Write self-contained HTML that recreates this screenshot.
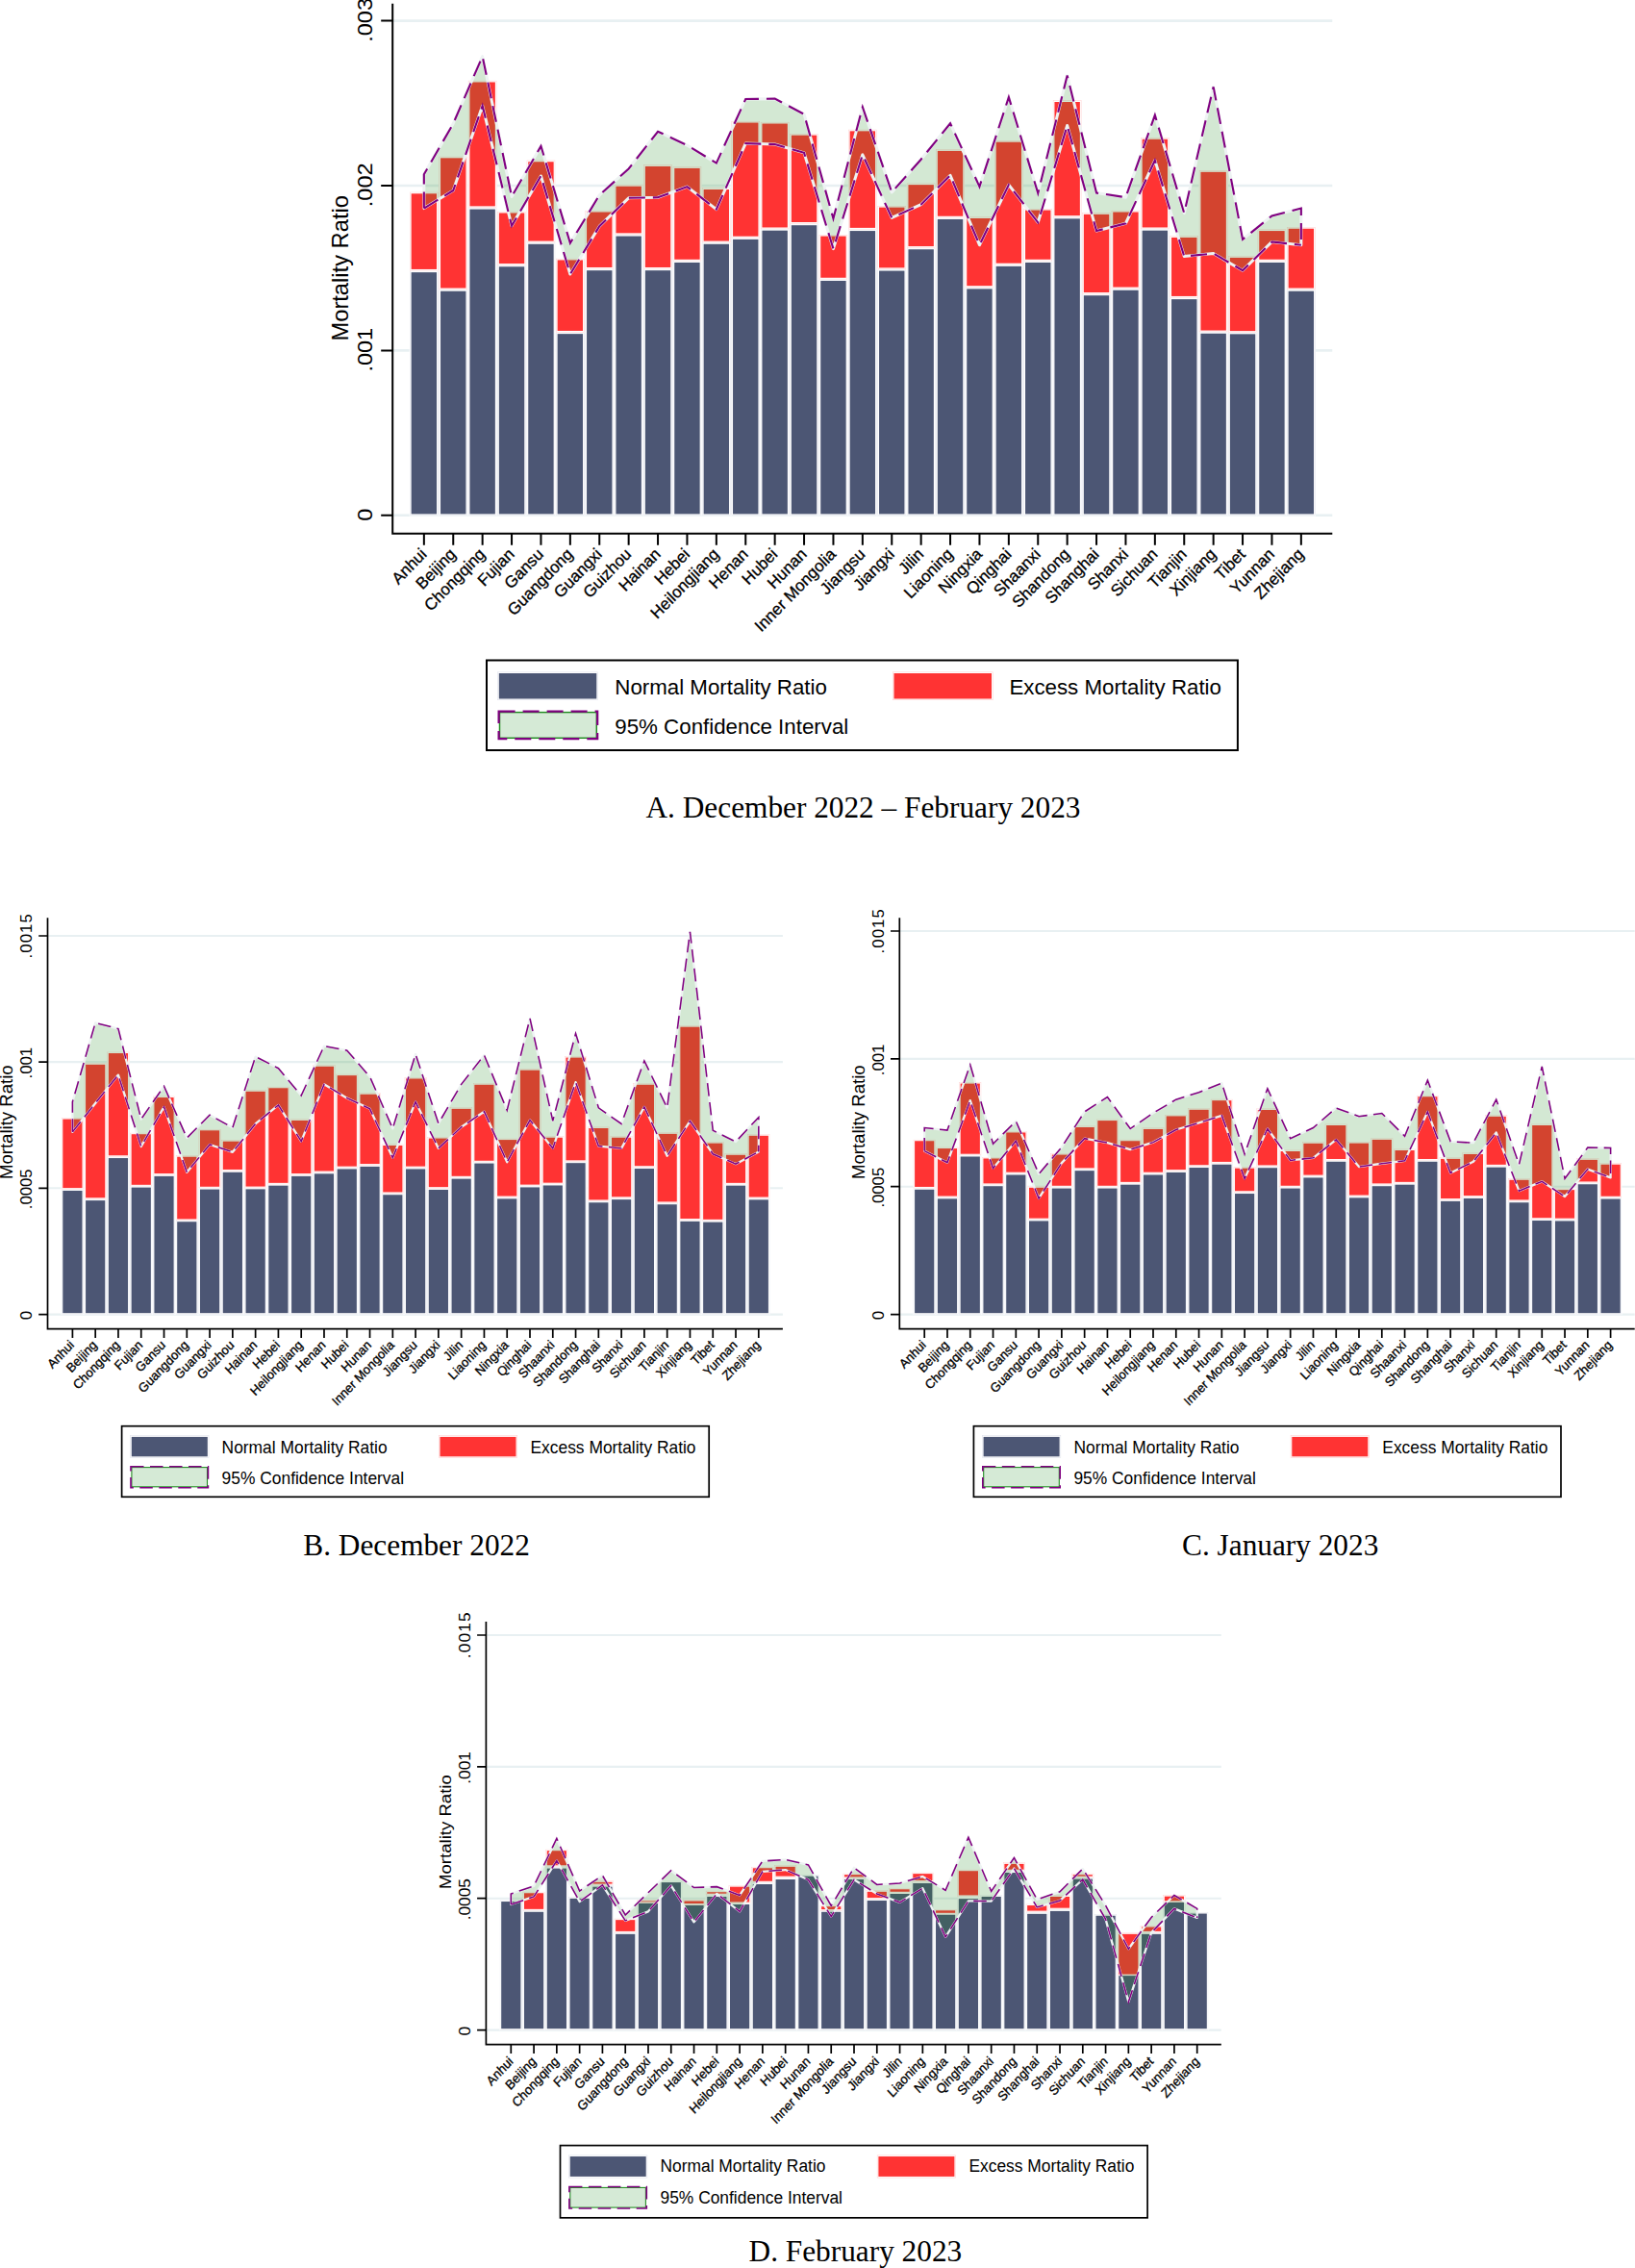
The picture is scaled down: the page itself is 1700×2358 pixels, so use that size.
<!DOCTYPE html>
<html><head><meta charset="utf-8"><title>Mortality Ratio by Province</title>
<style>html,body{margin:0;padding:0;background:#fff}svg{display:block}
text{font-family:"Liberation Sans",Arial,Helvetica,sans-serif;fill:#000}
text.cap{font-family:"Liberation Serif","Times New Roman",Times,serif}</style></head>
<body><svg width="1700" height="2358" viewBox="0 0 1700 2358">
<rect width="1700" height="2358" fill="#fff"/>
<line x1="408.2" y1="21.6" x2="1385.3" y2="21.6" stroke="#e8f0f2" stroke-width="2.6"/>
<line x1="408.2" y1="193" x2="1385.3" y2="193" stroke="#e8f0f2" stroke-width="2.6"/>
<line x1="408.2" y1="364.4" x2="1385.3" y2="364.4" stroke="#e8f0f2" stroke-width="2.6"/>
<line x1="408.2" y1="535.8" x2="1385.3" y2="535.8" stroke="#e8f0f2" stroke-width="2.6"/>
<rect x="425.65" y="281.14" width="30.4" height="255.26" fill="#fff"/>
<rect x="427.65" y="283.14" width="26.4" height="251.26" fill="#4c5674"/>
<rect x="426.35" y="281.84" width="29" height="253.86" fill="none" stroke="#dfe2ec" stroke-width="0.5"/>
<rect x="425.65" y="199.32" width="30.4" height="82.62" fill="#fff"/>
<rect x="427.65" y="201.32" width="26.4" height="78.62" fill="#ff3333"/>
<rect x="426.35" y="200.02" width="29" height="81.22" fill="none" stroke="#ffd0d0" stroke-width="0.5"/>
<rect x="456.05" y="300.71" width="30.4" height="235.69" fill="#fff"/>
<rect x="458.05" y="302.71" width="26.4" height="231.69" fill="#4c5674"/>
<rect x="456.75" y="301.41" width="29" height="234.29" fill="none" stroke="#dfe2ec" stroke-width="0.5"/>
<rect x="456.05" y="162.33" width="30.4" height="139.18" fill="#fff"/>
<rect x="458.05" y="164.33" width="26.4" height="135.18" fill="#ff3333"/>
<rect x="456.75" y="163.03" width="29" height="137.78" fill="none" stroke="#ffd0d0" stroke-width="0.5"/>
<rect x="486.45" y="215.57" width="30.4" height="320.83" fill="#fff"/>
<rect x="488.45" y="217.57" width="26.4" height="316.83" fill="#4c5674"/>
<rect x="487.15" y="216.27" width="29" height="319.43" fill="none" stroke="#dfe2ec" stroke-width="0.5"/>
<rect x="486.45" y="83.45" width="30.4" height="132.92" fill="#fff"/>
<rect x="488.45" y="85.45" width="26.4" height="128.92" fill="#ff3333"/>
<rect x="487.15" y="84.15" width="29" height="131.52" fill="none" stroke="#ffd0d0" stroke-width="0.5"/>
<rect x="516.85" y="275.26" width="30.4" height="261.14" fill="#fff"/>
<rect x="518.85" y="277.26" width="26.4" height="257.14" fill="#4c5674"/>
<rect x="517.55" y="275.96" width="29" height="259.74" fill="none" stroke="#dfe2ec" stroke-width="0.5"/>
<rect x="516.85" y="219.48" width="30.4" height="56.58" fill="#fff"/>
<rect x="518.85" y="221.48" width="26.4" height="52.58" fill="#ff3333"/>
<rect x="517.55" y="220.18" width="29" height="55.18" fill="none" stroke="#ffd0d0" stroke-width="0.5"/>
<rect x="547.25" y="251.78" width="30.4" height="284.62" fill="#fff"/>
<rect x="549.25" y="253.78" width="26.4" height="280.62" fill="#4c5674"/>
<rect x="547.95" y="252.48" width="29" height="283.22" fill="none" stroke="#dfe2ec" stroke-width="0.5"/>
<rect x="547.25" y="166.24" width="30.4" height="86.34" fill="#fff"/>
<rect x="549.25" y="168.24" width="26.4" height="82.34" fill="#ff3333"/>
<rect x="547.95" y="166.94" width="29" height="84.94" fill="none" stroke="#ffd0d0" stroke-width="0.5"/>
<rect x="577.65" y="345.14" width="30.4" height="191.26" fill="#fff"/>
<rect x="579.65" y="347.14" width="26.4" height="187.26" fill="#4c5674"/>
<rect x="578.35" y="345.84" width="29" height="189.86" fill="none" stroke="#dfe2ec" stroke-width="0.5"/>
<rect x="577.65" y="268.41" width="30.4" height="77.53" fill="#fff"/>
<rect x="579.65" y="270.41" width="26.4" height="73.53" fill="#ff3333"/>
<rect x="578.35" y="269.11" width="29" height="76.13" fill="none" stroke="#ffd0d0" stroke-width="0.5"/>
<rect x="608.05" y="279.18" width="30.4" height="257.22" fill="#fff"/>
<rect x="610.05" y="281.18" width="26.4" height="253.22" fill="#4c5674"/>
<rect x="608.75" y="279.88" width="29" height="255.82" fill="none" stroke="#dfe2ec" stroke-width="0.5"/>
<rect x="608.05" y="218.5" width="30.4" height="61.48" fill="#fff"/>
<rect x="610.05" y="220.5" width="26.4" height="57.48" fill="#ff3333"/>
<rect x="608.75" y="219.2" width="29" height="60.08" fill="none" stroke="#ffd0d0" stroke-width="0.5"/>
<rect x="638.45" y="243.55" width="30.4" height="292.85" fill="#fff"/>
<rect x="640.45" y="245.55" width="26.4" height="288.85" fill="#4c5674"/>
<rect x="639.15" y="244.25" width="29" height="291.45" fill="none" stroke="#dfe2ec" stroke-width="0.5"/>
<rect x="638.45" y="191.69" width="30.4" height="52.67" fill="#fff"/>
<rect x="640.45" y="193.69" width="26.4" height="48.67" fill="#ff3333"/>
<rect x="639.15" y="192.39" width="29" height="51.27" fill="none" stroke="#ffd0d0" stroke-width="0.5"/>
<rect x="668.85" y="279.18" width="30.4" height="257.22" fill="#fff"/>
<rect x="670.85" y="281.18" width="26.4" height="253.22" fill="#4c5674"/>
<rect x="669.55" y="279.88" width="29" height="255.82" fill="none" stroke="#dfe2ec" stroke-width="0.5"/>
<rect x="668.85" y="170.94" width="30.4" height="109.04" fill="#fff"/>
<rect x="670.85" y="172.94" width="26.4" height="105.04" fill="#ff3333"/>
<rect x="669.55" y="171.64" width="29" height="107.64" fill="none" stroke="#ffd0d0" stroke-width="0.5"/>
<rect x="699.25" y="270.96" width="30.4" height="265.44" fill="#fff"/>
<rect x="701.25" y="272.96" width="26.4" height="261.44" fill="#4c5674"/>
<rect x="699.95" y="271.66" width="29" height="264.04" fill="none" stroke="#dfe2ec" stroke-width="0.5"/>
<rect x="699.25" y="172.9" width="30.4" height="98.86" fill="#fff"/>
<rect x="701.25" y="174.9" width="26.4" height="94.86" fill="#ff3333"/>
<rect x="699.95" y="173.6" width="29" height="97.46" fill="none" stroke="#ffd0d0" stroke-width="0.5"/>
<rect x="729.65" y="251.78" width="30.4" height="284.62" fill="#fff"/>
<rect x="731.65" y="253.78" width="26.4" height="280.62" fill="#4c5674"/>
<rect x="730.35" y="252.48" width="29" height="283.22" fill="none" stroke="#dfe2ec" stroke-width="0.5"/>
<rect x="729.65" y="195.01" width="30.4" height="57.56" fill="#fff"/>
<rect x="731.65" y="197.01" width="26.4" height="53.56" fill="#ff3333"/>
<rect x="730.35" y="195.71" width="29" height="56.16" fill="none" stroke="#ffd0d0" stroke-width="0.5"/>
<rect x="760.05" y="246.88" width="30.4" height="289.52" fill="#fff"/>
<rect x="762.05" y="248.88" width="26.4" height="285.52" fill="#4c5674"/>
<rect x="760.75" y="247.58" width="29" height="288.12" fill="none" stroke="#dfe2ec" stroke-width="0.5"/>
<rect x="760.05" y="125.53" width="30.4" height="122.15" fill="#fff"/>
<rect x="762.05" y="127.53" width="26.4" height="118.15" fill="#ff3333"/>
<rect x="760.75" y="126.23" width="29" height="120.75" fill="none" stroke="#ffd0d0" stroke-width="0.5"/>
<rect x="790.45" y="237.68" width="30.4" height="298.72" fill="#fff"/>
<rect x="792.45" y="239.68" width="26.4" height="294.72" fill="#4c5674"/>
<rect x="791.15" y="238.38" width="29" height="297.32" fill="none" stroke="#dfe2ec" stroke-width="0.5"/>
<rect x="790.45" y="126.51" width="30.4" height="111.98" fill="#fff"/>
<rect x="792.45" y="128.51" width="26.4" height="107.98" fill="#ff3333"/>
<rect x="791.15" y="127.21" width="29" height="110.58" fill="none" stroke="#ffd0d0" stroke-width="0.5"/>
<rect x="820.85" y="232.2" width="30.4" height="304.2" fill="#fff"/>
<rect x="822.85" y="234.2" width="26.4" height="300.2" fill="#4c5674"/>
<rect x="821.55" y="232.9" width="29" height="302.8" fill="none" stroke="#dfe2ec" stroke-width="0.5"/>
<rect x="820.85" y="138.64" width="30.4" height="94.36" fill="#fff"/>
<rect x="822.85" y="140.64" width="26.4" height="90.36" fill="#ff3333"/>
<rect x="821.55" y="139.34" width="29" height="92.96" fill="none" stroke="#ffd0d0" stroke-width="0.5"/>
<rect x="851.25" y="289.94" width="30.4" height="246.46" fill="#fff"/>
<rect x="853.25" y="291.94" width="26.4" height="242.46" fill="#4c5674"/>
<rect x="851.95" y="290.64" width="29" height="245.06" fill="none" stroke="#dfe2ec" stroke-width="0.5"/>
<rect x="851.25" y="243.55" width="30.4" height="47.19" fill="#fff"/>
<rect x="853.25" y="245.55" width="26.4" height="43.19" fill="#ff3333"/>
<rect x="851.95" y="244.25" width="29" height="45.79" fill="none" stroke="#ffd0d0" stroke-width="0.5"/>
<rect x="881.65" y="238.07" width="30.4" height="298.33" fill="#fff"/>
<rect x="883.65" y="240.07" width="26.4" height="294.33" fill="#4c5674"/>
<rect x="882.35" y="238.77" width="29" height="296.93" fill="none" stroke="#dfe2ec" stroke-width="0.5"/>
<rect x="881.65" y="134.34" width="30.4" height="104.54" fill="#fff"/>
<rect x="883.65" y="136.34" width="26.4" height="100.54" fill="#ff3333"/>
<rect x="882.35" y="135.04" width="29" height="103.14" fill="none" stroke="#ffd0d0" stroke-width="0.5"/>
<rect x="912.05" y="279.57" width="30.4" height="256.83" fill="#fff"/>
<rect x="914.05" y="281.57" width="26.4" height="252.83" fill="#4c5674"/>
<rect x="912.75" y="280.27" width="29" height="255.43" fill="none" stroke="#dfe2ec" stroke-width="0.5"/>
<rect x="912.05" y="213.61" width="30.4" height="66.76" fill="#fff"/>
<rect x="914.05" y="215.61" width="26.4" height="62.76" fill="#ff3333"/>
<rect x="912.75" y="214.31" width="29" height="65.36" fill="none" stroke="#ffd0d0" stroke-width="0.5"/>
<rect x="942.45" y="257.26" width="30.4" height="279.14" fill="#fff"/>
<rect x="944.45" y="259.26" width="26.4" height="275.14" fill="#4c5674"/>
<rect x="943.15" y="257.96" width="29" height="277.74" fill="none" stroke="#dfe2ec" stroke-width="0.5"/>
<rect x="942.45" y="190.12" width="30.4" height="67.94" fill="#fff"/>
<rect x="944.45" y="192.12" width="26.4" height="63.94" fill="#ff3333"/>
<rect x="943.15" y="190.82" width="29" height="66.54" fill="none" stroke="#ffd0d0" stroke-width="0.5"/>
<rect x="972.85" y="225.94" width="30.4" height="310.46" fill="#fff"/>
<rect x="974.85" y="227.94" width="26.4" height="306.46" fill="#4c5674"/>
<rect x="973.55" y="226.64" width="29" height="309.06" fill="none" stroke="#dfe2ec" stroke-width="0.5"/>
<rect x="972.85" y="154.89" width="30.4" height="71.85" fill="#fff"/>
<rect x="974.85" y="156.89" width="26.4" height="67.85" fill="#ff3333"/>
<rect x="973.55" y="155.59" width="29" height="70.45" fill="none" stroke="#ffd0d0" stroke-width="0.5"/>
<rect x="1003.25" y="298.36" width="30.4" height="238.04" fill="#fff"/>
<rect x="1005.25" y="300.36" width="26.4" height="234.04" fill="#4c5674"/>
<rect x="1003.95" y="299.06" width="29" height="236.64" fill="none" stroke="#dfe2ec" stroke-width="0.5"/>
<rect x="1003.25" y="224.96" width="30.4" height="74.2" fill="#fff"/>
<rect x="1005.25" y="226.96" width="26.4" height="70.2" fill="#ff3333"/>
<rect x="1003.95" y="225.66" width="29" height="72.8" fill="none" stroke="#ffd0d0" stroke-width="0.5"/>
<rect x="1033.65" y="274.87" width="30.4" height="261.53" fill="#fff"/>
<rect x="1035.65" y="276.87" width="26.4" height="257.53" fill="#4c5674"/>
<rect x="1034.35" y="275.57" width="29" height="260.13" fill="none" stroke="#dfe2ec" stroke-width="0.5"/>
<rect x="1033.65" y="145.69" width="30.4" height="129.98" fill="#fff"/>
<rect x="1035.65" y="147.69" width="26.4" height="125.98" fill="#ff3333"/>
<rect x="1034.35" y="146.39" width="29" height="128.58" fill="none" stroke="#ffd0d0" stroke-width="0.5"/>
<rect x="1064.05" y="270.96" width="30.4" height="265.44" fill="#fff"/>
<rect x="1066.05" y="272.96" width="26.4" height="261.44" fill="#4c5674"/>
<rect x="1064.75" y="271.66" width="29" height="264.04" fill="none" stroke="#dfe2ec" stroke-width="0.5"/>
<rect x="1064.05" y="216.54" width="30.4" height="55.21" fill="#fff"/>
<rect x="1066.05" y="218.54" width="26.4" height="51.21" fill="#ff3333"/>
<rect x="1064.75" y="217.24" width="29" height="53.81" fill="none" stroke="#ffd0d0" stroke-width="0.5"/>
<rect x="1094.45" y="225.35" width="30.4" height="311.05" fill="#fff"/>
<rect x="1096.45" y="227.35" width="26.4" height="307.05" fill="#4c5674"/>
<rect x="1095.15" y="226.05" width="29" height="309.65" fill="none" stroke="#dfe2ec" stroke-width="0.5"/>
<rect x="1094.45" y="104" width="30.4" height="122.15" fill="#fff"/>
<rect x="1096.45" y="106" width="26.4" height="118.15" fill="#ff3333"/>
<rect x="1095.15" y="104.7" width="29" height="120.75" fill="none" stroke="#ffd0d0" stroke-width="0.5"/>
<rect x="1124.85" y="305.21" width="30.4" height="231.19" fill="#fff"/>
<rect x="1126.85" y="307.21" width="26.4" height="227.19" fill="#4c5674"/>
<rect x="1125.55" y="305.91" width="29" height="229.79" fill="none" stroke="#dfe2ec" stroke-width="0.5"/>
<rect x="1124.85" y="220.85" width="30.4" height="85.16" fill="#fff"/>
<rect x="1126.85" y="222.85" width="26.4" height="81.16" fill="#ff3333"/>
<rect x="1125.55" y="221.55" width="29" height="83.76" fill="none" stroke="#ffd0d0" stroke-width="0.5"/>
<rect x="1155.25" y="299.73" width="30.4" height="236.67" fill="#fff"/>
<rect x="1157.25" y="301.73" width="26.4" height="232.67" fill="#4c5674"/>
<rect x="1155.95" y="300.43" width="29" height="235.27" fill="none" stroke="#dfe2ec" stroke-width="0.5"/>
<rect x="1155.25" y="218.5" width="30.4" height="82.03" fill="#fff"/>
<rect x="1157.25" y="220.5" width="26.4" height="78.03" fill="#ff3333"/>
<rect x="1155.95" y="219.2" width="29" height="80.63" fill="none" stroke="#ffd0d0" stroke-width="0.5"/>
<rect x="1185.65" y="237.68" width="30.4" height="298.72" fill="#fff"/>
<rect x="1187.65" y="239.68" width="26.4" height="294.72" fill="#4c5674"/>
<rect x="1186.35" y="238.38" width="29" height="297.32" fill="none" stroke="#dfe2ec" stroke-width="0.5"/>
<rect x="1185.65" y="142.75" width="30.4" height="95.73" fill="#fff"/>
<rect x="1187.65" y="144.75" width="26.4" height="91.73" fill="#ff3333"/>
<rect x="1186.35" y="143.45" width="29" height="94.33" fill="none" stroke="#ffd0d0" stroke-width="0.5"/>
<rect x="1216.05" y="309.13" width="30.4" height="227.27" fill="#fff"/>
<rect x="1218.05" y="311.13" width="26.4" height="223.27" fill="#4c5674"/>
<rect x="1216.75" y="309.83" width="29" height="225.87" fill="none" stroke="#dfe2ec" stroke-width="0.5"/>
<rect x="1216.05" y="244.93" width="30.4" height="65" fill="#fff"/>
<rect x="1218.05" y="246.93" width="26.4" height="61" fill="#ff3333"/>
<rect x="1216.75" y="245.63" width="29" height="63.6" fill="none" stroke="#ffd0d0" stroke-width="0.5"/>
<rect x="1246.45" y="344.75" width="30.4" height="191.65" fill="#fff"/>
<rect x="1248.45" y="346.75" width="26.4" height="187.65" fill="#4c5674"/>
<rect x="1247.15" y="345.45" width="29" height="190.25" fill="none" stroke="#dfe2ec" stroke-width="0.5"/>
<rect x="1246.45" y="176.81" width="30.4" height="168.74" fill="#fff"/>
<rect x="1248.45" y="178.81" width="26.4" height="164.74" fill="#ff3333"/>
<rect x="1247.15" y="177.51" width="29" height="167.34" fill="none" stroke="#ffd0d0" stroke-width="0.5"/>
<rect x="1276.85" y="345.34" width="30.4" height="191.06" fill="#fff"/>
<rect x="1278.85" y="347.34" width="26.4" height="187.06" fill="#4c5674"/>
<rect x="1277.55" y="346.04" width="29" height="189.66" fill="none" stroke="#dfe2ec" stroke-width="0.5"/>
<rect x="1276.85" y="265.87" width="30.4" height="80.27" fill="#fff"/>
<rect x="1278.85" y="267.87" width="26.4" height="76.27" fill="#ff3333"/>
<rect x="1277.55" y="266.57" width="29" height="78.87" fill="none" stroke="#ffd0d0" stroke-width="0.5"/>
<rect x="1307.25" y="270.96" width="30.4" height="265.44" fill="#fff"/>
<rect x="1309.25" y="272.96" width="26.4" height="261.44" fill="#4c5674"/>
<rect x="1307.95" y="271.66" width="29" height="264.04" fill="none" stroke="#dfe2ec" stroke-width="0.5"/>
<rect x="1307.25" y="238.07" width="30.4" height="33.68" fill="#fff"/>
<rect x="1309.25" y="240.07" width="26.4" height="29.68" fill="#ff3333"/>
<rect x="1307.95" y="238.77" width="29" height="32.28" fill="none" stroke="#ffd0d0" stroke-width="0.5"/>
<rect x="1337.65" y="300.71" width="30.4" height="235.69" fill="#fff"/>
<rect x="1339.65" y="302.71" width="26.4" height="231.69" fill="#4c5674"/>
<rect x="1338.35" y="301.41" width="29" height="234.29" fill="none" stroke="#dfe2ec" stroke-width="0.5"/>
<rect x="1337.65" y="235.73" width="30.4" height="65.78" fill="#fff"/>
<rect x="1339.65" y="237.73" width="26.4" height="61.78" fill="#ff3333"/>
<rect x="1338.35" y="236.43" width="29" height="64.38" fill="none" stroke="#ffd0d0" stroke-width="0.5"/>
<polygon points="440.85,181.35 471.25,128.51 501.65,58.63 532.05,204.45 562.45,151.99 592.85,252.8 623.25,202.89 653.65,175.48 684.05,136.73 714.45,151.02 744.85,169.61 775.25,103.06 805.65,102.67 836.05,118.72 866.45,227.35 896.85,111.28 927.25,199.95 957.65,165.7 988.05,128.31 1018.45,194.08 1048.85,101.1 1079.25,200.93 1109.65,78.59 1140.05,200.54 1170.45,205.23 1200.85,119.7 1231.25,221.68 1261.65,90.34 1292.05,248.88 1322.45,224.42 1352.85,216.59 1352.85,254.75 1322.45,251.43 1292.05,281.18 1261.65,263.56 1231.25,266.5 1200.85,166.67 1170.45,232.25 1140.05,240.07 1109.65,130.46 1079.25,231.27 1048.85,192.12 1018.45,254.75 988.05,182.33 957.65,212.67 927.25,226.37 896.85,160.8 866.45,258.67 836.05,158.85 805.65,150.04 775.25,149.06 744.85,217.57 714.45,194.08 684.05,205.23 653.65,205.82 623.25,235.18 592.85,285.09 562.45,182.92 532.05,234.79 501.65,109.91 471.25,197.99 440.85,216.59" fill="rgba(34,139,34,0.2)"/>
<polygon points="440.85,181.35 471.25,128.51 501.65,58.63 532.05,204.45 562.45,151.99 592.85,252.8 623.25,202.89 653.65,175.48 684.05,136.73 714.45,151.02 744.85,169.61 775.25,103.06 805.65,102.67 836.05,118.72 866.45,227.35 896.85,111.28 927.25,199.95 957.65,165.7 988.05,128.31 1018.45,194.08 1048.85,101.1 1079.25,200.93 1109.65,78.59 1140.05,200.54 1170.45,205.23 1200.85,119.7 1231.25,221.68 1261.65,90.34 1292.05,248.88 1322.45,224.42 1352.85,216.59 1352.85,254.75 1322.45,251.43 1292.05,281.18 1261.65,263.56 1231.25,266.5 1200.85,166.67 1170.45,232.25 1140.05,240.07 1109.65,130.46 1079.25,231.27 1048.85,192.12 1018.45,254.75 988.05,182.33 957.65,212.67 927.25,226.37 896.85,160.8 866.45,258.67 836.05,158.85 805.65,150.04 775.25,149.06 744.85,217.57 714.45,194.08 684.05,205.23 653.65,205.82 623.25,235.18 592.85,285.09 562.45,182.92 532.05,234.79 501.65,109.91 471.25,197.99 440.85,216.59" fill="none" stroke="#eef3f3" stroke-width="3.0" stroke-linejoin="round"/>
<polyline points="440.85,216.59 440.85,181.35 471.25,128.51 501.65,58.63 532.05,204.45 562.45,151.99 592.85,252.8 623.25,202.89 653.65,175.48 684.05,136.73 714.45,151.02 744.85,169.61 775.25,103.06 805.65,102.67 836.05,118.72 866.45,227.35 896.85,111.28 927.25,199.95 957.65,165.7 988.05,128.31 1018.45,194.08 1048.85,101.1 1079.25,200.93 1109.65,78.59 1140.05,200.54 1170.45,205.23 1200.85,119.7 1231.25,221.68 1261.65,90.34 1292.05,248.88 1322.45,224.42 1352.85,216.59 1352.85,254.75" fill="none" stroke="#800080" stroke-width="2.1" stroke-dasharray="17 8" stroke-linejoin="miter"/>
<polyline points="440.85,216.59 471.25,197.99 501.65,109.91 532.05,234.79 562.45,182.92 592.85,285.09 623.25,235.18 653.65,205.82 684.05,205.23 714.45,194.08 744.85,217.57 775.25,149.06 805.65,150.04 836.05,158.85 866.45,258.67 896.85,160.8 927.25,226.37 957.65,212.67 988.05,182.33 1018.45,254.75 1048.85,192.12 1079.25,231.27 1109.65,130.46 1140.05,240.07 1170.45,232.25 1200.85,166.67 1231.25,266.5 1261.65,263.56 1292.05,281.18 1322.45,251.43 1352.85,254.75" fill="none" stroke="#800080" stroke-width="2.1" stroke-dasharray="17 8"/>
<path d="M408.2 3.8V554.7H1385.3" fill="none" stroke="#000" stroke-width="2.0"/>
<path d="M396.2 21.6H408.2M396.2 193H408.2M396.2 364.4H408.2M396.2 535.8H408.2M440.85 554.7V566.7M471.25 554.7V566.7M501.65 554.7V566.7M532.05 554.7V566.7M562.45 554.7V566.7M592.85 554.7V566.7M623.25 554.7V566.7M653.65 554.7V566.7M684.05 554.7V566.7M714.45 554.7V566.7M744.85 554.7V566.7M775.25 554.7V566.7M805.65 554.7V566.7M836.05 554.7V566.7M866.45 554.7V566.7M896.85 554.7V566.7M927.25 554.7V566.7M957.65 554.7V566.7M988.05 554.7V566.7M1018.45 554.7V566.7M1048.85 554.7V566.7M1079.25 554.7V566.7M1109.65 554.7V566.7M1140.05 554.7V566.7M1170.45 554.7V566.7M1200.85 554.7V566.7M1231.25 554.7V566.7M1261.65 554.7V566.7M1292.05 554.7V566.7M1322.45 554.7V566.7M1352.85 554.7V566.7" stroke="#000" stroke-width="2.0" fill="none"/>
<text transform="translate(386.5 20.9) scale(1 1.025) rotate(-90)" text-anchor="middle" font-size="22.93">.003</text>
<text transform="translate(386.5 192.3) scale(1 1.025) rotate(-90)" text-anchor="middle" font-size="22.93">.002</text>
<text transform="translate(386.5 363.7) scale(1 1.025) rotate(-90)" text-anchor="middle" font-size="22.93">.001</text>
<text transform="translate(386.5 535.1) scale(1 1.025) rotate(-90)" text-anchor="middle" font-size="22.93">0</text>
<text transform="translate(362.2 278.8) scale(1 1.025) rotate(-90)" text-anchor="middle" font-size="23.12">Mortality Ratio</text>
<text transform="translate(444.55 577.3) scale(1 1.025) rotate(-45)" text-anchor="end" stroke="#000" stroke-width="0.3" font-size="16.79">Anhui</text>
<text transform="translate(474.95 577.3) scale(1 1.025) rotate(-45)" text-anchor="end" stroke="#000" stroke-width="0.3" font-size="16.79">Beijing</text>
<text transform="translate(505.35 577.3) scale(1 1.025) rotate(-45)" text-anchor="end" stroke="#000" stroke-width="0.3" font-size="16.79">Chongqing</text>
<text transform="translate(535.75 577.3) scale(1 1.025) rotate(-45)" text-anchor="end" stroke="#000" stroke-width="0.3" font-size="16.79">Fujian</text>
<text transform="translate(566.15 577.3) scale(1 1.025) rotate(-45)" text-anchor="end" stroke="#000" stroke-width="0.3" font-size="16.79">Gansu</text>
<text transform="translate(596.55 577.3) scale(1 1.025) rotate(-45)" text-anchor="end" stroke="#000" stroke-width="0.3" font-size="16.79">Guangdong</text>
<text transform="translate(626.95 577.3) scale(1 1.025) rotate(-45)" text-anchor="end" stroke="#000" stroke-width="0.3" font-size="16.79">Guangxi</text>
<text transform="translate(657.35 577.3) scale(1 1.025) rotate(-45)" text-anchor="end" stroke="#000" stroke-width="0.3" font-size="16.79">Guizhou</text>
<text transform="translate(687.75 577.3) scale(1 1.025) rotate(-45)" text-anchor="end" stroke="#000" stroke-width="0.3" font-size="16.79">Hainan</text>
<text transform="translate(718.15 577.3) scale(1 1.025) rotate(-45)" text-anchor="end" stroke="#000" stroke-width="0.3" font-size="16.79">Hebei</text>
<text transform="translate(748.55 577.3) scale(1 1.025) rotate(-45)" text-anchor="end" stroke="#000" stroke-width="0.3" font-size="16.79">Heilongjiang</text>
<text transform="translate(778.95 577.3) scale(1 1.025) rotate(-45)" text-anchor="end" stroke="#000" stroke-width="0.3" font-size="16.79">Henan</text>
<text transform="translate(809.35 577.3) scale(1 1.025) rotate(-45)" text-anchor="end" stroke="#000" stroke-width="0.3" font-size="16.79">Hubei</text>
<text transform="translate(839.75 577.3) scale(1 1.025) rotate(-45)" text-anchor="end" stroke="#000" stroke-width="0.3" font-size="16.79">Hunan</text>
<text transform="translate(870.15 577.3) scale(1 1.025) rotate(-45)" text-anchor="end" stroke="#000" stroke-width="0.3" font-size="16.79">Inner Mongolia</text>
<text transform="translate(900.55 577.3) scale(1 1.025) rotate(-45)" text-anchor="end" stroke="#000" stroke-width="0.3" font-size="16.79">Jiangsu</text>
<text transform="translate(930.95 577.3) scale(1 1.025) rotate(-45)" text-anchor="end" stroke="#000" stroke-width="0.3" font-size="16.79">Jiangxi</text>
<text transform="translate(961.35 577.3) scale(1 1.025) rotate(-45)" text-anchor="end" stroke="#000" stroke-width="0.3" font-size="16.79">Jilin</text>
<text transform="translate(991.75 577.3) scale(1 1.025) rotate(-45)" text-anchor="end" stroke="#000" stroke-width="0.3" font-size="16.79">Liaoning</text>
<text transform="translate(1022.15 577.3) scale(1 1.025) rotate(-45)" text-anchor="end" stroke="#000" stroke-width="0.3" font-size="16.79">Ningxia</text>
<text transform="translate(1052.55 577.3) scale(1 1.025) rotate(-45)" text-anchor="end" stroke="#000" stroke-width="0.3" font-size="16.79">Qinghai</text>
<text transform="translate(1082.95 577.3) scale(1 1.025) rotate(-45)" text-anchor="end" stroke="#000" stroke-width="0.3" font-size="16.79">Shaanxi</text>
<text transform="translate(1113.35 577.3) scale(1 1.025) rotate(-45)" text-anchor="end" stroke="#000" stroke-width="0.3" font-size="16.79">Shandong</text>
<text transform="translate(1143.75 577.3) scale(1 1.025) rotate(-45)" text-anchor="end" stroke="#000" stroke-width="0.3" font-size="16.79">Shanghai</text>
<text transform="translate(1174.15 577.3) scale(1 1.025) rotate(-45)" text-anchor="end" stroke="#000" stroke-width="0.3" font-size="16.79">Shanxi</text>
<text transform="translate(1204.55 577.3) scale(1 1.025) rotate(-45)" text-anchor="end" stroke="#000" stroke-width="0.3" font-size="16.79">Sichuan</text>
<text transform="translate(1234.95 577.3) scale(1 1.025) rotate(-45)" text-anchor="end" stroke="#000" stroke-width="0.3" font-size="16.79">Tianjin</text>
<text transform="translate(1265.35 577.3) scale(1 1.025) rotate(-45)" text-anchor="end" stroke="#000" stroke-width="0.3" font-size="16.79">Xinjiang</text>
<text transform="translate(1295.75 577.3) scale(1 1.025) rotate(-45)" text-anchor="end" stroke="#000" stroke-width="0.3" font-size="16.79">Tibet</text>
<text transform="translate(1326.15 577.3) scale(1 1.025) rotate(-45)" text-anchor="end" stroke="#000" stroke-width="0.3" font-size="16.79">Yunnan</text>
<text transform="translate(1356.55 577.3) scale(1 1.025) rotate(-45)" text-anchor="end" stroke="#000" stroke-width="0.3" font-size="16.79">Zhejiang</text>
<rect x="506" y="686.5" width="780.9" height="93.5" fill="#fff" stroke="#000" stroke-width="2.0"/>
<rect x="518.8" y="700" width="101.5" height="26.5" fill="#4c5674"/>
<rect x="517.6" y="698.8" width="103.9" height="28.9" fill="none" stroke="#dfe2ec" stroke-width="0.6"/>
<rect x="929.5" y="700" width="101.5" height="26.5" fill="#ff3333"/>
<rect x="928.3" y="698.8" width="103.9" height="28.9" fill="none" stroke="#ffd0d0" stroke-width="0.6"/>
<rect x="519.5" y="740.6" width="100.8" height="26.7" fill="#d5ead6" stroke="#228b22" stroke-width="1.47"/>
<rect x="518.6" y="739.7" width="102.6" height="28.5" fill="none" stroke="#800080" stroke-width="2.21" stroke-dasharray="17 8"/>
<text transform="translate(639.3 722) scale(1 1.025)" font-size="22.3">Normal Mortality Ratio</text>
<text transform="translate(1049.4 722) scale(1 1.025)" font-size="22.3">Excess Mortality Ratio</text>
<text transform="translate(639.3 763) scale(1 1.025)" font-size="22.3">95% Confidence Interval</text>
<text x="897.5" y="850.4" class="cap" font-size="31.3" text-anchor="middle">A. December 2022 – February 2023</text>
<line x1="49.5" y1="973" x2="813.9" y2="973" stroke="#e8f0f2" stroke-width="2.1"/>
<line x1="49.5" y1="1104.1" x2="813.9" y2="1104.1" stroke="#e8f0f2" stroke-width="2.1"/>
<line x1="49.5" y1="1235.3" x2="813.9" y2="1235.3" stroke="#e8f0f2" stroke-width="2.1"/>
<line x1="49.5" y1="1366.6" x2="813.9" y2="1366.6" stroke="#e8f0f2" stroke-width="2.1"/>
<rect x="63.51" y="1236.15" width="23.78" height="130.84" fill="#fff"/>
<rect x="65.3" y="1237.94" width="20.2" height="127.26" fill="#4c5674"/>
<rect x="64.2" y="1236.84" width="22.4" height="129.46" fill="none" stroke="#dfe2ec" stroke-width="0.45"/>
<rect x="63.51" y="1161.77" width="23.78" height="75.16" fill="#fff"/>
<rect x="65.3" y="1163.56" width="20.2" height="71.58" fill="#ff3333"/>
<rect x="64.2" y="1162.46" width="22.4" height="73.78" fill="none" stroke="#ffd0d0" stroke-width="0.45"/>
<rect x="87.29" y="1246.33" width="23.78" height="120.66" fill="#fff"/>
<rect x="89.08" y="1248.12" width="20.2" height="117.08" fill="#4c5674"/>
<rect x="87.98" y="1247.02" width="22.4" height="119.28" fill="none" stroke="#dfe2ec" stroke-width="0.45"/>
<rect x="87.29" y="1105.01" width="23.78" height="142.1" fill="#fff"/>
<rect x="89.08" y="1106.8" width="20.2" height="138.52" fill="#ff3333"/>
<rect x="87.98" y="1105.7" width="22.4" height="140.72" fill="none" stroke="#ffd0d0" stroke-width="0.45"/>
<rect x="111.07" y="1202.29" width="23.78" height="164.7" fill="#fff"/>
<rect x="112.86" y="1204.08" width="20.2" height="161.12" fill="#4c5674"/>
<rect x="111.76" y="1202.98" width="22.4" height="163.32" fill="none" stroke="#dfe2ec" stroke-width="0.45"/>
<rect x="111.07" y="1093.27" width="23.78" height="109.8" fill="#fff"/>
<rect x="112.86" y="1095.06" width="20.2" height="106.22" fill="#ff3333"/>
<rect x="111.76" y="1093.96" width="22.4" height="108.42" fill="none" stroke="#ffd0d0" stroke-width="0.45"/>
<rect x="134.85" y="1232.82" width="23.78" height="134.17" fill="#fff"/>
<rect x="136.64" y="1234.61" width="20.2" height="130.59" fill="#4c5674"/>
<rect x="135.54" y="1233.51" width="22.4" height="132.79" fill="none" stroke="#dfe2ec" stroke-width="0.45"/>
<rect x="134.85" y="1177.43" width="23.78" height="56.17" fill="#fff"/>
<rect x="136.64" y="1179.22" width="20.2" height="52.59" fill="#ff3333"/>
<rect x="135.54" y="1178.12" width="22.4" height="54.79" fill="none" stroke="#ffd0d0" stroke-width="0.45"/>
<rect x="158.63" y="1221.08" width="23.78" height="145.91" fill="#fff"/>
<rect x="160.42" y="1222.87" width="20.2" height="142.33" fill="#4c5674"/>
<rect x="159.32" y="1221.77" width="22.4" height="144.53" fill="none" stroke="#dfe2ec" stroke-width="0.45"/>
<rect x="158.63" y="1139.26" width="23.78" height="82.6" fill="#fff"/>
<rect x="160.42" y="1141.05" width="20.2" height="79.02" fill="#ff3333"/>
<rect x="159.32" y="1139.95" width="22.4" height="81.22" fill="none" stroke="#ffd0d0" stroke-width="0.45"/>
<rect x="182.41" y="1268.45" width="23.78" height="98.54" fill="#fff"/>
<rect x="184.2" y="1270.24" width="20.2" height="94.96" fill="#4c5674"/>
<rect x="183.1" y="1269.14" width="22.4" height="97.16" fill="none" stroke="#dfe2ec" stroke-width="0.45"/>
<rect x="182.41" y="1200.92" width="23.78" height="68.31" fill="#fff"/>
<rect x="184.2" y="1202.71" width="20.2" height="64.73" fill="#ff3333"/>
<rect x="183.1" y="1201.61" width="22.4" height="66.93" fill="none" stroke="#ffd0d0" stroke-width="0.45"/>
<rect x="206.19" y="1234.78" width="23.78" height="132.21" fill="#fff"/>
<rect x="207.98" y="1236.57" width="20.2" height="128.63" fill="#4c5674"/>
<rect x="206.88" y="1235.47" width="22.4" height="130.83" fill="none" stroke="#dfe2ec" stroke-width="0.45"/>
<rect x="206.19" y="1173.52" width="23.78" height="62.04" fill="#fff"/>
<rect x="207.98" y="1175.31" width="20.2" height="58.46" fill="#ff3333"/>
<rect x="206.88" y="1174.21" width="22.4" height="60.66" fill="none" stroke="#ffd0d0" stroke-width="0.45"/>
<rect x="229.97" y="1216.97" width="23.78" height="150.02" fill="#fff"/>
<rect x="231.76" y="1218.76" width="20.2" height="146.44" fill="#4c5674"/>
<rect x="230.66" y="1217.66" width="22.4" height="148.64" fill="none" stroke="#dfe2ec" stroke-width="0.45"/>
<rect x="229.97" y="1184.87" width="23.78" height="32.88" fill="#fff"/>
<rect x="231.76" y="1186.66" width="20.2" height="29.3" fill="#ff3333"/>
<rect x="230.66" y="1185.56" width="22.4" height="31.5" fill="none" stroke="#ffd0d0" stroke-width="0.45"/>
<rect x="253.75" y="1234.59" width="23.78" height="132.4" fill="#fff"/>
<rect x="255.54" y="1236.38" width="20.2" height="128.82" fill="#4c5674"/>
<rect x="254.44" y="1235.28" width="22.4" height="131.02" fill="none" stroke="#dfe2ec" stroke-width="0.45"/>
<rect x="253.75" y="1133" width="23.78" height="102.37" fill="#fff"/>
<rect x="255.54" y="1134.79" width="20.2" height="98.79" fill="#ff3333"/>
<rect x="254.44" y="1133.69" width="22.4" height="100.99" fill="none" stroke="#ffd0d0" stroke-width="0.45"/>
<rect x="277.53" y="1230.87" width="23.78" height="136.12" fill="#fff"/>
<rect x="279.32" y="1232.66" width="20.2" height="132.54" fill="#4c5674"/>
<rect x="278.22" y="1231.56" width="22.4" height="134.74" fill="none" stroke="#dfe2ec" stroke-width="0.45"/>
<rect x="277.53" y="1129.48" width="23.78" height="102.17" fill="#fff"/>
<rect x="279.32" y="1131.27" width="20.2" height="98.59" fill="#ff3333"/>
<rect x="278.22" y="1130.17" width="22.4" height="100.79" fill="none" stroke="#ffd0d0" stroke-width="0.45"/>
<rect x="301.31" y="1221.08" width="23.78" height="145.91" fill="#fff"/>
<rect x="303.1" y="1222.87" width="20.2" height="142.33" fill="#4c5674"/>
<rect x="302" y="1221.77" width="22.4" height="144.53" fill="none" stroke="#dfe2ec" stroke-width="0.45"/>
<rect x="301.31" y="1163.14" width="23.78" height="58.72" fill="#fff"/>
<rect x="303.1" y="1164.93" width="20.2" height="55.14" fill="#ff3333"/>
<rect x="302" y="1163.83" width="22.4" height="57.34" fill="none" stroke="#ffd0d0" stroke-width="0.45"/>
<rect x="325.09" y="1218.53" width="23.78" height="148.46" fill="#fff"/>
<rect x="326.88" y="1220.32" width="20.2" height="144.88" fill="#4c5674"/>
<rect x="325.78" y="1219.22" width="22.4" height="147.08" fill="none" stroke="#dfe2ec" stroke-width="0.45"/>
<rect x="325.09" y="1106.97" width="23.78" height="112.35" fill="#fff"/>
<rect x="326.88" y="1108.76" width="20.2" height="108.77" fill="#ff3333"/>
<rect x="325.78" y="1107.66" width="22.4" height="110.97" fill="none" stroke="#ffd0d0" stroke-width="0.45"/>
<rect x="348.87" y="1213.64" width="23.78" height="153.35" fill="#fff"/>
<rect x="350.66" y="1215.43" width="20.2" height="149.77" fill="#4c5674"/>
<rect x="349.56" y="1214.33" width="22.4" height="151.97" fill="none" stroke="#dfe2ec" stroke-width="0.45"/>
<rect x="348.87" y="1116.36" width="23.78" height="98.06" fill="#fff"/>
<rect x="350.66" y="1118.15" width="20.2" height="94.48" fill="#ff3333"/>
<rect x="349.56" y="1117.05" width="22.4" height="96.68" fill="none" stroke="#ffd0d0" stroke-width="0.45"/>
<rect x="372.65" y="1211.1" width="23.78" height="155.89" fill="#fff"/>
<rect x="374.44" y="1212.89" width="20.2" height="152.31" fill="#4c5674"/>
<rect x="373.34" y="1211.79" width="22.4" height="154.51" fill="none" stroke="#dfe2ec" stroke-width="0.45"/>
<rect x="372.65" y="1135.94" width="23.78" height="75.94" fill="#fff"/>
<rect x="374.44" y="1137.73" width="20.2" height="72.36" fill="#ff3333"/>
<rect x="373.34" y="1136.63" width="22.4" height="74.56" fill="none" stroke="#ffd0d0" stroke-width="0.45"/>
<rect x="396.43" y="1240.46" width="23.78" height="126.53" fill="#fff"/>
<rect x="398.22" y="1242.25" width="20.2" height="122.95" fill="#4c5674"/>
<rect x="397.12" y="1241.15" width="22.4" height="125.15" fill="none" stroke="#dfe2ec" stroke-width="0.45"/>
<rect x="396.43" y="1189.17" width="23.78" height="52.06" fill="#fff"/>
<rect x="398.22" y="1190.96" width="20.2" height="48.48" fill="#ff3333"/>
<rect x="397.12" y="1189.86" width="22.4" height="50.68" fill="none" stroke="#ffd0d0" stroke-width="0.45"/>
<rect x="420.21" y="1213.64" width="23.78" height="153.35" fill="#fff"/>
<rect x="422" y="1215.43" width="20.2" height="149.77" fill="#4c5674"/>
<rect x="420.9" y="1214.33" width="22.4" height="151.97" fill="none" stroke="#dfe2ec" stroke-width="0.45"/>
<rect x="420.21" y="1119.69" width="23.78" height="94.73" fill="#fff"/>
<rect x="422" y="1121.48" width="20.2" height="91.15" fill="#ff3333"/>
<rect x="420.9" y="1120.38" width="22.4" height="93.35" fill="none" stroke="#ffd0d0" stroke-width="0.45"/>
<rect x="443.99" y="1235.17" width="23.78" height="131.82" fill="#fff"/>
<rect x="445.78" y="1236.96" width="20.2" height="128.24" fill="#4c5674"/>
<rect x="444.68" y="1235.86" width="22.4" height="130.44" fill="none" stroke="#dfe2ec" stroke-width="0.45"/>
<rect x="443.99" y="1181.74" width="23.78" height="54.22" fill="#fff"/>
<rect x="445.78" y="1183.53" width="20.2" height="50.64" fill="#ff3333"/>
<rect x="444.68" y="1182.43" width="22.4" height="52.84" fill="none" stroke="#ffd0d0" stroke-width="0.45"/>
<rect x="467.77" y="1223.82" width="23.78" height="143.17" fill="#fff"/>
<rect x="469.56" y="1225.61" width="20.2" height="139.59" fill="#4c5674"/>
<rect x="468.46" y="1224.51" width="22.4" height="141.79" fill="none" stroke="#dfe2ec" stroke-width="0.45"/>
<rect x="467.77" y="1151.01" width="23.78" height="73.59" fill="#fff"/>
<rect x="469.56" y="1152.8" width="20.2" height="70.01" fill="#ff3333"/>
<rect x="468.46" y="1151.7" width="22.4" height="72.21" fill="none" stroke="#ffd0d0" stroke-width="0.45"/>
<rect x="491.55" y="1207.77" width="23.78" height="159.22" fill="#fff"/>
<rect x="493.34" y="1209.56" width="20.2" height="155.64" fill="#4c5674"/>
<rect x="492.24" y="1208.46" width="22.4" height="157.84" fill="none" stroke="#dfe2ec" stroke-width="0.45"/>
<rect x="491.55" y="1125.95" width="23.78" height="82.6" fill="#fff"/>
<rect x="493.34" y="1127.74" width="20.2" height="79.02" fill="#ff3333"/>
<rect x="492.24" y="1126.64" width="22.4" height="81.22" fill="none" stroke="#ffd0d0" stroke-width="0.45"/>
<rect x="515.33" y="1244.57" width="23.78" height="122.42" fill="#fff"/>
<rect x="517.12" y="1246.36" width="20.2" height="118.84" fill="#4c5674"/>
<rect x="516.02" y="1245.26" width="22.4" height="121.04" fill="none" stroke="#dfe2ec" stroke-width="0.45"/>
<rect x="515.33" y="1183.3" width="23.78" height="62.04" fill="#fff"/>
<rect x="517.12" y="1185.09" width="20.2" height="58.46" fill="#ff3333"/>
<rect x="516.02" y="1183.99" width="22.4" height="60.66" fill="none" stroke="#ffd0d0" stroke-width="0.45"/>
<rect x="539.11" y="1232.63" width="23.78" height="134.36" fill="#fff"/>
<rect x="540.9" y="1234.42" width="20.2" height="130.78" fill="#4c5674"/>
<rect x="539.8" y="1233.32" width="22.4" height="132.98" fill="none" stroke="#dfe2ec" stroke-width="0.45"/>
<rect x="539.11" y="1110.88" width="23.78" height="122.53" fill="#fff"/>
<rect x="540.9" y="1112.67" width="20.2" height="118.95" fill="#ff3333"/>
<rect x="539.8" y="1111.57" width="22.4" height="121.15" fill="none" stroke="#ffd0d0" stroke-width="0.45"/>
<rect x="562.89" y="1230.67" width="23.78" height="136.32" fill="#fff"/>
<rect x="564.68" y="1232.46" width="20.2" height="132.74" fill="#4c5674"/>
<rect x="563.58" y="1231.36" width="22.4" height="134.94" fill="none" stroke="#dfe2ec" stroke-width="0.45"/>
<rect x="562.89" y="1180.95" width="23.78" height="50.5" fill="#fff"/>
<rect x="564.68" y="1182.74" width="20.2" height="46.92" fill="#ff3333"/>
<rect x="563.58" y="1181.64" width="22.4" height="49.12" fill="none" stroke="#ffd0d0" stroke-width="0.45"/>
<rect x="586.67" y="1207.38" width="23.78" height="159.61" fill="#fff"/>
<rect x="588.46" y="1209.17" width="20.2" height="156.03" fill="#4c5674"/>
<rect x="587.36" y="1208.07" width="22.4" height="158.23" fill="none" stroke="#dfe2ec" stroke-width="0.45"/>
<rect x="586.67" y="1097.77" width="23.78" height="110.39" fill="#fff"/>
<rect x="588.46" y="1099.56" width="20.2" height="106.81" fill="#ff3333"/>
<rect x="587.36" y="1098.46" width="22.4" height="109.01" fill="none" stroke="#ffd0d0" stroke-width="0.45"/>
<rect x="610.45" y="1248.48" width="23.78" height="118.51" fill="#fff"/>
<rect x="612.24" y="1250.27" width="20.2" height="114.93" fill="#4c5674"/>
<rect x="611.14" y="1249.17" width="22.4" height="117.13" fill="none" stroke="#dfe2ec" stroke-width="0.45"/>
<rect x="610.45" y="1171.17" width="23.78" height="78.09" fill="#fff"/>
<rect x="612.24" y="1172.96" width="20.2" height="74.51" fill="#ff3333"/>
<rect x="611.14" y="1171.86" width="22.4" height="76.71" fill="none" stroke="#ffd0d0" stroke-width="0.45"/>
<rect x="634.23" y="1245.35" width="23.78" height="121.64" fill="#fff"/>
<rect x="636.02" y="1247.14" width="20.2" height="118.06" fill="#4c5674"/>
<rect x="634.92" y="1246.04" width="22.4" height="120.26" fill="none" stroke="#dfe2ec" stroke-width="0.45"/>
<rect x="634.23" y="1180.95" width="23.78" height="65.18" fill="#fff"/>
<rect x="636.02" y="1182.74" width="20.2" height="61.6" fill="#ff3333"/>
<rect x="634.92" y="1181.64" width="22.4" height="63.8" fill="none" stroke="#ffd0d0" stroke-width="0.45"/>
<rect x="658.01" y="1213.25" width="23.78" height="153.74" fill="#fff"/>
<rect x="659.8" y="1215.04" width="20.2" height="150.16" fill="#4c5674"/>
<rect x="658.7" y="1213.94" width="22.4" height="152.36" fill="none" stroke="#dfe2ec" stroke-width="0.45"/>
<rect x="658.01" y="1125.95" width="23.78" height="88.08" fill="#fff"/>
<rect x="659.8" y="1127.74" width="20.2" height="84.5" fill="#ff3333"/>
<rect x="658.7" y="1126.64" width="22.4" height="86.7" fill="none" stroke="#ffd0d0" stroke-width="0.45"/>
<rect x="681.79" y="1250.44" width="23.78" height="116.55" fill="#fff"/>
<rect x="683.58" y="1252.23" width="20.2" height="112.97" fill="#4c5674"/>
<rect x="682.48" y="1251.13" width="22.4" height="115.17" fill="none" stroke="#dfe2ec" stroke-width="0.45"/>
<rect x="681.79" y="1177.04" width="23.78" height="74.18" fill="#fff"/>
<rect x="683.58" y="1178.83" width="20.2" height="70.6" fill="#ff3333"/>
<rect x="682.48" y="1177.73" width="22.4" height="72.8" fill="none" stroke="#ffd0d0" stroke-width="0.45"/>
<rect x="705.57" y="1268.06" width="23.78" height="98.93" fill="#fff"/>
<rect x="707.36" y="1269.85" width="20.2" height="95.35" fill="#4c5674"/>
<rect x="706.26" y="1268.75" width="22.4" height="97.55" fill="none" stroke="#dfe2ec" stroke-width="0.45"/>
<rect x="705.57" y="1065.86" width="23.78" height="202.97" fill="#fff"/>
<rect x="707.36" y="1067.65" width="20.2" height="199.39" fill="#ff3333"/>
<rect x="706.26" y="1066.55" width="22.4" height="201.59" fill="none" stroke="#ffd0d0" stroke-width="0.45"/>
<rect x="729.35" y="1268.84" width="23.78" height="98.15" fill="#fff"/>
<rect x="731.14" y="1270.63" width="20.2" height="94.57" fill="#4c5674"/>
<rect x="730.04" y="1269.53" width="22.4" height="96.77" fill="none" stroke="#dfe2ec" stroke-width="0.45"/>
<rect x="729.35" y="1186.83" width="23.78" height="82.79" fill="#fff"/>
<rect x="731.14" y="1188.62" width="20.2" height="79.21" fill="#ff3333"/>
<rect x="730.04" y="1187.52" width="22.4" height="81.41" fill="none" stroke="#ffd0d0" stroke-width="0.45"/>
<rect x="753.13" y="1230.87" width="23.78" height="136.12" fill="#fff"/>
<rect x="754.92" y="1232.66" width="20.2" height="132.54" fill="#4c5674"/>
<rect x="753.82" y="1231.56" width="22.4" height="134.74" fill="none" stroke="#dfe2ec" stroke-width="0.45"/>
<rect x="753.13" y="1198.96" width="23.78" height="32.68" fill="#fff"/>
<rect x="754.92" y="1200.75" width="20.2" height="29.1" fill="#ff3333"/>
<rect x="753.82" y="1199.65" width="22.4" height="31.3" fill="none" stroke="#ffd0d0" stroke-width="0.45"/>
<rect x="776.91" y="1245.55" width="23.78" height="121.44" fill="#fff"/>
<rect x="778.7" y="1247.34" width="20.2" height="117.86" fill="#4c5674"/>
<rect x="777.6" y="1246.24" width="22.4" height="120.06" fill="none" stroke="#dfe2ec" stroke-width="0.45"/>
<rect x="776.91" y="1179" width="23.78" height="67.33" fill="#fff"/>
<rect x="778.7" y="1180.79" width="20.2" height="63.75" fill="#ff3333"/>
<rect x="777.6" y="1179.69" width="22.4" height="65.95" fill="none" stroke="#ffd0d0" stroke-width="0.45"/>
<polygon points="75.4,1145.55 99.18,1063.35 122.96,1069.61 146.74,1163.56 170.52,1129.31 194.3,1183.14 218.08,1159.26 241.86,1172.37 265.64,1098.58 289.42,1110.71 313.2,1139.1 336.98,1087.62 360.76,1092.12 384.54,1119.52 408.32,1173.35 432.1,1096.03 455.88,1168.06 479.66,1127.35 503.44,1097.01 527.22,1154.36 551,1058.85 574.78,1165.32 598.56,1074.5 622.34,1151.82 646.12,1168.46 669.9,1102.89 693.68,1151.82 717.46,968.81 741.24,1175.31 765.02,1187.05 788.8,1161.61 788.8,1197.42 765.02,1210.15 741.24,1199.77 717.46,1165.52 693.68,1201.73 669.9,1150.84 646.12,1193.9 622.34,1191.55 598.56,1125.2 574.78,1193.9 551,1164.54 527.22,1208.19 503.44,1155.73 479.66,1171.78 455.88,1193.9 432.1,1145.55 408.32,1203.69 384.54,1152.8 360.76,1141.64 336.98,1127.35 313.2,1186.66 289.42,1148.88 265.64,1168.46 241.86,1197.82 218.08,1189.99 194.3,1218.76 170.52,1150.84 146.74,1191.94 122.96,1117.57 99.18,1146.93 75.4,1176.87" fill="rgba(34,139,34,0.2)"/>
<polygon points="75.4,1145.55 99.18,1063.35 122.96,1069.61 146.74,1163.56 170.52,1129.31 194.3,1183.14 218.08,1159.26 241.86,1172.37 265.64,1098.58 289.42,1110.71 313.2,1139.1 336.98,1087.62 360.76,1092.12 384.54,1119.52 408.32,1173.35 432.1,1096.03 455.88,1168.06 479.66,1127.35 503.44,1097.01 527.22,1154.36 551,1058.85 574.78,1165.32 598.56,1074.5 622.34,1151.82 646.12,1168.46 669.9,1102.89 693.68,1151.82 717.46,968.81 741.24,1175.31 765.02,1187.05 788.8,1161.61 788.8,1197.42 765.02,1210.15 741.24,1199.77 717.46,1165.52 693.68,1201.73 669.9,1150.84 646.12,1193.9 622.34,1191.55 598.56,1125.2 574.78,1193.9 551,1164.54 527.22,1208.19 503.44,1155.73 479.66,1171.78 455.88,1193.9 432.1,1145.55 408.32,1203.69 384.54,1152.8 360.76,1141.64 336.98,1127.35 313.2,1186.66 289.42,1148.88 265.64,1168.46 241.86,1197.82 218.08,1189.99 194.3,1218.76 170.52,1150.84 146.74,1191.94 122.96,1117.57 99.18,1146.93 75.4,1176.87" fill="none" stroke="#eef3f3" stroke-width="2.3" stroke-linejoin="round"/>
<polyline points="75.4,1176.87 75.4,1145.55 99.18,1063.35 122.96,1069.61 146.74,1163.56 170.52,1129.31 194.3,1183.14 218.08,1159.26 241.86,1172.37 265.64,1098.58 289.42,1110.71 313.2,1139.1 336.98,1087.62 360.76,1092.12 384.54,1119.52 408.32,1173.35 432.1,1096.03 455.88,1168.06 479.66,1127.35 503.44,1097.01 527.22,1154.36 551,1058.85 574.78,1165.32 598.56,1074.5 622.34,1151.82 646.12,1168.46 669.9,1102.89 693.68,1151.82 717.46,968.81 741.24,1175.31 765.02,1187.05 788.8,1161.61 788.8,1197.42" fill="none" stroke="#800080" stroke-width="1.55" stroke-dasharray="13.5 6.5" stroke-linejoin="miter"/>
<polyline points="75.4,1176.87 99.18,1146.93 122.96,1117.57 146.74,1191.94 170.52,1150.84 194.3,1218.76 218.08,1189.99 241.86,1197.82 265.64,1168.46 289.42,1148.88 313.2,1186.66 336.98,1127.35 360.76,1141.64 384.54,1152.8 408.32,1203.69 432.1,1145.55 455.88,1193.9 479.66,1171.78 503.44,1155.73 527.22,1208.19 551,1164.54 574.78,1193.9 598.56,1125.2 622.34,1191.55 646.12,1193.9 669.9,1150.84 693.68,1201.73 717.46,1165.52 741.24,1199.77 765.02,1210.15 788.8,1197.42" fill="none" stroke="#800080" stroke-width="1.55" stroke-dasharray="13.5 6.5"/>
<path d="M49.5 954.2V1381.6H813.9" fill="none" stroke="#000" stroke-width="1.7"/>
<path d="M40.2 973H49.5M40.2 1104.1H49.5M40.2 1235.3H49.5M40.2 1366.6H49.5M75.4 1381.6V1390.9M99.18 1381.6V1390.9M122.96 1381.6V1390.9M146.74 1381.6V1390.9M170.52 1381.6V1390.9M194.3 1381.6V1390.9M218.08 1381.6V1390.9M241.86 1381.6V1390.9M265.64 1381.6V1390.9M289.42 1381.6V1390.9M313.2 1381.6V1390.9M336.98 1381.6V1390.9M360.76 1381.6V1390.9M384.54 1381.6V1390.9M408.32 1381.6V1390.9M432.1 1381.6V1390.9M455.88 1381.6V1390.9M479.66 1381.6V1390.9M503.44 1381.6V1390.9M527.22 1381.6V1390.9M551 1381.6V1390.9M574.78 1381.6V1390.9M598.56 1381.6V1390.9M622.34 1381.6V1390.9M646.12 1381.6V1390.9M669.9 1381.6V1390.9M693.68 1381.6V1390.9M717.46 1381.6V1390.9M741.24 1381.6V1390.9M765.02 1381.6V1390.9M788.8 1381.6V1390.9" stroke="#000" stroke-width="1.7" fill="none"/>
<text transform="translate(33.1 972.8) scale(1 1.046) rotate(-90)" text-anchor="middle" font-size="16" letter-spacing="1.05">.0015</text>
<text transform="translate(33.1 1105.1) scale(1 1.046) rotate(-90)" text-anchor="middle" font-size="16">.001</text>
<text transform="translate(33.1 1236.3) scale(1 1.046) rotate(-90)" text-anchor="middle" font-size="16">.0005</text>
<text transform="translate(33.1 1367.6) scale(1 1.046) rotate(-90)" text-anchor="middle" font-size="16">0</text>
<text transform="translate(12.7 1166.7) scale(1 1.046) rotate(-90)" text-anchor="middle" font-size="17.78">Mortality Ratio</text>
<text transform="translate(77.8 1399.2) scale(1 1.046) rotate(-45)" text-anchor="end" stroke="#000" stroke-width="0.3" font-size="12.9">Anhui</text>
<text transform="translate(101.58 1399.2) scale(1 1.046) rotate(-45)" text-anchor="end" stroke="#000" stroke-width="0.3" font-size="12.9">Beijing</text>
<text transform="translate(125.36 1399.2) scale(1 1.046) rotate(-45)" text-anchor="end" stroke="#000" stroke-width="0.3" font-size="12.9">Chongqing</text>
<text transform="translate(149.14 1399.2) scale(1 1.046) rotate(-45)" text-anchor="end" stroke="#000" stroke-width="0.3" font-size="12.9">Fujian</text>
<text transform="translate(172.92 1399.2) scale(1 1.046) rotate(-45)" text-anchor="end" stroke="#000" stroke-width="0.3" font-size="12.9">Gansu</text>
<text transform="translate(196.7 1399.2) scale(1 1.046) rotate(-45)" text-anchor="end" stroke="#000" stroke-width="0.3" font-size="12.9">Guangdong</text>
<text transform="translate(220.48 1399.2) scale(1 1.046) rotate(-45)" text-anchor="end" stroke="#000" stroke-width="0.3" font-size="12.9">Guangxi</text>
<text transform="translate(244.26 1399.2) scale(1 1.046) rotate(-45)" text-anchor="end" stroke="#000" stroke-width="0.3" font-size="12.9">Guizhou</text>
<text transform="translate(268.04 1399.2) scale(1 1.046) rotate(-45)" text-anchor="end" stroke="#000" stroke-width="0.3" font-size="12.9">Hainan</text>
<text transform="translate(291.82 1399.2) scale(1 1.046) rotate(-45)" text-anchor="end" stroke="#000" stroke-width="0.3" font-size="12.9">Hebei</text>
<text transform="translate(315.6 1399.2) scale(1 1.046) rotate(-45)" text-anchor="end" stroke="#000" stroke-width="0.3" font-size="12.9">Heilongjiang</text>
<text transform="translate(339.38 1399.2) scale(1 1.046) rotate(-45)" text-anchor="end" stroke="#000" stroke-width="0.3" font-size="12.9">Henan</text>
<text transform="translate(363.16 1399.2) scale(1 1.046) rotate(-45)" text-anchor="end" stroke="#000" stroke-width="0.3" font-size="12.9">Hubei</text>
<text transform="translate(386.94 1399.2) scale(1 1.046) rotate(-45)" text-anchor="end" stroke="#000" stroke-width="0.3" font-size="12.9">Hunan</text>
<text transform="translate(410.72 1399.2) scale(1 1.046) rotate(-45)" text-anchor="end" stroke="#000" stroke-width="0.3" font-size="12.9">Inner Mongolia</text>
<text transform="translate(434.5 1399.2) scale(1 1.046) rotate(-45)" text-anchor="end" stroke="#000" stroke-width="0.3" font-size="12.9">Jiangsu</text>
<text transform="translate(458.28 1399.2) scale(1 1.046) rotate(-45)" text-anchor="end" stroke="#000" stroke-width="0.3" font-size="12.9">Jiangxi</text>
<text transform="translate(482.06 1399.2) scale(1 1.046) rotate(-45)" text-anchor="end" stroke="#000" stroke-width="0.3" font-size="12.9">Jilin</text>
<text transform="translate(505.84 1399.2) scale(1 1.046) rotate(-45)" text-anchor="end" stroke="#000" stroke-width="0.3" font-size="12.9">Liaoning</text>
<text transform="translate(529.62 1399.2) scale(1 1.046) rotate(-45)" text-anchor="end" stroke="#000" stroke-width="0.3" font-size="12.9">Ningxia</text>
<text transform="translate(553.4 1399.2) scale(1 1.046) rotate(-45)" text-anchor="end" stroke="#000" stroke-width="0.3" font-size="12.9">Qinghai</text>
<text transform="translate(577.18 1399.2) scale(1 1.046) rotate(-45)" text-anchor="end" stroke="#000" stroke-width="0.3" font-size="12.9">Shaanxi</text>
<text transform="translate(600.96 1399.2) scale(1 1.046) rotate(-45)" text-anchor="end" stroke="#000" stroke-width="0.3" font-size="12.9">Shandong</text>
<text transform="translate(624.74 1399.2) scale(1 1.046) rotate(-45)" text-anchor="end" stroke="#000" stroke-width="0.3" font-size="12.9">Shanghai</text>
<text transform="translate(648.52 1399.2) scale(1 1.046) rotate(-45)" text-anchor="end" stroke="#000" stroke-width="0.3" font-size="12.9">Shanxi</text>
<text transform="translate(672.3 1399.2) scale(1 1.046) rotate(-45)" text-anchor="end" stroke="#000" stroke-width="0.3" font-size="12.9">Sichuan</text>
<text transform="translate(696.08 1399.2) scale(1 1.046) rotate(-45)" text-anchor="end" stroke="#000" stroke-width="0.3" font-size="12.9">Tianjin</text>
<text transform="translate(719.86 1399.2) scale(1 1.046) rotate(-45)" text-anchor="end" stroke="#000" stroke-width="0.3" font-size="12.9">Xinjiang</text>
<text transform="translate(743.64 1399.2) scale(1 1.046) rotate(-45)" text-anchor="end" stroke="#000" stroke-width="0.3" font-size="12.9">Tibet</text>
<text transform="translate(767.42 1399.2) scale(1 1.046) rotate(-45)" text-anchor="end" stroke="#000" stroke-width="0.3" font-size="12.9">Yunnan</text>
<text transform="translate(791.2 1399.2) scale(1 1.046) rotate(-45)" text-anchor="end" stroke="#000" stroke-width="0.3" font-size="12.9">Zhejiang</text>
<rect x="126.6" y="1482.7" width="610.6" height="73.6" fill="#fff" stroke="#000" stroke-width="1.7"/>
<rect x="136.8" y="1493.9" width="79" height="20.4" fill="#4c5674"/>
<rect x="135.6" y="1492.7" width="81.4" height="22.8" fill="none" stroke="#dfe2ec" stroke-width="0.6"/>
<rect x="457.5" y="1493.9" width="79" height="20.4" fill="#ff3333"/>
<rect x="456.3" y="1492.7" width="81.4" height="22.8" fill="none" stroke="#ffd0d0" stroke-width="0.6"/>
<rect x="136.9" y="1525.6" width="78.6" height="20.2" fill="#d5ead6" stroke="#228b22" stroke-width="1.08"/>
<rect x="136" y="1524.7" width="80.4" height="22" fill="none" stroke="#800080" stroke-width="1.63" stroke-dasharray="13.5 6.5"/>
<text transform="translate(230.6 1511) scale(1 1.046)" font-size="17.4">Normal Mortality Ratio</text>
<text transform="translate(551.5 1511) scale(1 1.046)" font-size="17.4">Excess Mortality Ratio</text>
<text transform="translate(230.6 1542.9) scale(1 1.046)" font-size="17.4">95% Confidence Interval</text>
<text x="433.1" y="1617.3" class="cap" font-size="31.3" text-anchor="middle">B. December 2022</text>
<line x1="935.3" y1="968" x2="1699.7" y2="968" stroke="#e8f0f2" stroke-width="2.1"/>
<line x1="935.3" y1="1100.9" x2="1699.7" y2="1100.9" stroke="#e8f0f2" stroke-width="2.1"/>
<line x1="935.3" y1="1233.7" x2="1699.7" y2="1233.7" stroke="#e8f0f2" stroke-width="2.1"/>
<line x1="935.3" y1="1366.6" x2="1699.7" y2="1366.6" stroke="#e8f0f2" stroke-width="2.1"/>
<rect x="949.31" y="1234.96" width="23.78" height="132.03" fill="#fff"/>
<rect x="951.1" y="1236.75" width="20.2" height="128.45" fill="#4c5674"/>
<rect x="950" y="1235.65" width="22.4" height="130.65" fill="none" stroke="#dfe2ec" stroke-width="0.45"/>
<rect x="949.31" y="1184.46" width="23.78" height="51.28" fill="#fff"/>
<rect x="951.1" y="1186.25" width="20.2" height="47.7" fill="#ff3333"/>
<rect x="950" y="1185.15" width="22.4" height="49.9" fill="none" stroke="#ffd0d0" stroke-width="0.45"/>
<rect x="973.09" y="1244.55" width="23.78" height="122.44" fill="#fff"/>
<rect x="974.88" y="1246.34" width="20.2" height="118.86" fill="#4c5674"/>
<rect x="973.78" y="1245.24" width="22.4" height="121.06" fill="none" stroke="#dfe2ec" stroke-width="0.45"/>
<rect x="973.09" y="1192.29" width="23.78" height="53.04" fill="#fff"/>
<rect x="974.88" y="1194.08" width="20.2" height="49.46" fill="#ff3333"/>
<rect x="973.78" y="1192.98" width="22.4" height="51.66" fill="none" stroke="#ffd0d0" stroke-width="0.45"/>
<rect x="996.87" y="1200.7" width="23.78" height="166.29" fill="#fff"/>
<rect x="998.66" y="1202.49" width="20.2" height="162.71" fill="#4c5674"/>
<rect x="997.56" y="1201.39" width="22.4" height="164.91" fill="none" stroke="#dfe2ec" stroke-width="0.45"/>
<rect x="996.87" y="1124.76" width="23.78" height="76.72" fill="#fff"/>
<rect x="998.66" y="1126.55" width="20.2" height="73.14" fill="#ff3333"/>
<rect x="997.56" y="1125.45" width="22.4" height="75.34" fill="none" stroke="#ffd0d0" stroke-width="0.45"/>
<rect x="1020.65" y="1231.43" width="23.78" height="135.56" fill="#fff"/>
<rect x="1022.44" y="1233.22" width="20.2" height="131.98" fill="#4c5674"/>
<rect x="1021.34" y="1232.12" width="22.4" height="134.18" fill="none" stroke="#dfe2ec" stroke-width="0.45"/>
<rect x="1020.65" y="1202.66" width="23.78" height="29.55" fill="#fff"/>
<rect x="1022.44" y="1204.45" width="20.2" height="25.97" fill="#ff3333"/>
<rect x="1021.34" y="1203.35" width="22.4" height="28.17" fill="none" stroke="#ffd0d0" stroke-width="0.45"/>
<rect x="1044.43" y="1219.69" width="23.78" height="147.3" fill="#fff"/>
<rect x="1046.22" y="1221.48" width="20.2" height="143.72" fill="#4c5674"/>
<rect x="1045.12" y="1220.38" width="22.4" height="145.92" fill="none" stroke="#dfe2ec" stroke-width="0.45"/>
<rect x="1044.43" y="1175.65" width="23.78" height="44.82" fill="#fff"/>
<rect x="1046.22" y="1177.44" width="20.2" height="41.24" fill="#ff3333"/>
<rect x="1045.12" y="1176.34" width="22.4" height="43.44" fill="none" stroke="#ffd0d0" stroke-width="0.45"/>
<rect x="1068.21" y="1267.64" width="23.78" height="99.35" fill="#fff"/>
<rect x="1070" y="1269.43" width="20.2" height="95.77" fill="#4c5674"/>
<rect x="1068.9" y="1268.33" width="22.4" height="97.97" fill="none" stroke="#dfe2ec" stroke-width="0.45"/>
<rect x="1068.21" y="1233" width="23.78" height="35.42" fill="#fff"/>
<rect x="1070" y="1234.79" width="20.2" height="31.84" fill="#ff3333"/>
<rect x="1068.9" y="1233.69" width="22.4" height="34.04" fill="none" stroke="#ffd0d0" stroke-width="0.45"/>
<rect x="1091.99" y="1233.78" width="23.78" height="133.21" fill="#fff"/>
<rect x="1093.78" y="1235.57" width="20.2" height="129.63" fill="#4c5674"/>
<rect x="1092.68" y="1234.47" width="22.4" height="131.83" fill="none" stroke="#dfe2ec" stroke-width="0.45"/>
<rect x="1091.99" y="1198.75" width="23.78" height="35.82" fill="#fff"/>
<rect x="1093.78" y="1200.54" width="20.2" height="32.24" fill="#ff3333"/>
<rect x="1092.68" y="1199.44" width="22.4" height="34.44" fill="none" stroke="#ffd0d0" stroke-width="0.45"/>
<rect x="1115.77" y="1215.38" width="23.78" height="151.61" fill="#fff"/>
<rect x="1117.56" y="1217.17" width="20.2" height="148.03" fill="#4c5674"/>
<rect x="1116.46" y="1216.07" width="22.4" height="150.23" fill="none" stroke="#dfe2ec" stroke-width="0.45"/>
<rect x="1115.77" y="1170.17" width="23.78" height="45.99" fill="#fff"/>
<rect x="1117.56" y="1171.96" width="20.2" height="42.41" fill="#ff3333"/>
<rect x="1116.46" y="1170.86" width="22.4" height="44.61" fill="none" stroke="#ffd0d0" stroke-width="0.45"/>
<rect x="1139.55" y="1233.78" width="23.78" height="133.21" fill="#fff"/>
<rect x="1141.34" y="1235.57" width="20.2" height="129.63" fill="#4c5674"/>
<rect x="1140.24" y="1234.47" width="22.4" height="131.83" fill="none" stroke="#dfe2ec" stroke-width="0.45"/>
<rect x="1139.55" y="1163.32" width="23.78" height="71.24" fill="#fff"/>
<rect x="1141.34" y="1165.11" width="20.2" height="67.66" fill="#ff3333"/>
<rect x="1140.24" y="1164.01" width="22.4" height="69.86" fill="none" stroke="#ffd0d0" stroke-width="0.45"/>
<rect x="1163.33" y="1229.87" width="23.78" height="137.12" fill="#fff"/>
<rect x="1165.12" y="1231.66" width="20.2" height="133.54" fill="#4c5674"/>
<rect x="1164.02" y="1230.56" width="22.4" height="135.74" fill="none" stroke="#dfe2ec" stroke-width="0.45"/>
<rect x="1163.33" y="1184.46" width="23.78" height="46.19" fill="#fff"/>
<rect x="1165.12" y="1186.25" width="20.2" height="42.61" fill="#ff3333"/>
<rect x="1164.02" y="1185.15" width="22.4" height="44.81" fill="none" stroke="#ffd0d0" stroke-width="0.45"/>
<rect x="1187.11" y="1219.69" width="23.78" height="147.3" fill="#fff"/>
<rect x="1188.9" y="1221.48" width="20.2" height="143.72" fill="#4c5674"/>
<rect x="1187.8" y="1220.38" width="22.4" height="145.92" fill="none" stroke="#dfe2ec" stroke-width="0.45"/>
<rect x="1187.11" y="1172.13" width="23.78" height="48.34" fill="#fff"/>
<rect x="1188.9" y="1173.92" width="20.2" height="44.76" fill="#ff3333"/>
<rect x="1187.8" y="1172.82" width="22.4" height="46.96" fill="none" stroke="#ffd0d0" stroke-width="0.45"/>
<rect x="1210.89" y="1217.15" width="23.78" height="149.84" fill="#fff"/>
<rect x="1212.68" y="1218.94" width="20.2" height="146.26" fill="#4c5674"/>
<rect x="1211.58" y="1217.84" width="22.4" height="148.46" fill="none" stroke="#dfe2ec" stroke-width="0.45"/>
<rect x="1210.89" y="1158.62" width="23.78" height="59.3" fill="#fff"/>
<rect x="1212.68" y="1160.41" width="20.2" height="55.72" fill="#ff3333"/>
<rect x="1211.58" y="1159.31" width="22.4" height="57.92" fill="none" stroke="#ffd0d0" stroke-width="0.45"/>
<rect x="1234.67" y="1212.25" width="23.78" height="154.74" fill="#fff"/>
<rect x="1236.46" y="1214.04" width="20.2" height="151.16" fill="#4c5674"/>
<rect x="1235.36" y="1212.94" width="22.4" height="153.36" fill="none" stroke="#dfe2ec" stroke-width="0.45"/>
<rect x="1234.67" y="1151.97" width="23.78" height="61.07" fill="#fff"/>
<rect x="1236.46" y="1153.76" width="20.2" height="57.49" fill="#ff3333"/>
<rect x="1235.36" y="1152.66" width="22.4" height="59.69" fill="none" stroke="#ffd0d0" stroke-width="0.45"/>
<rect x="1258.45" y="1208.92" width="23.78" height="158.07" fill="#fff"/>
<rect x="1260.24" y="1210.71" width="20.2" height="154.49" fill="#4c5674"/>
<rect x="1259.14" y="1209.61" width="22.4" height="156.69" fill="none" stroke="#dfe2ec" stroke-width="0.45"/>
<rect x="1258.45" y="1142.38" width="23.78" height="67.33" fill="#fff"/>
<rect x="1260.24" y="1144.17" width="20.2" height="63.75" fill="#ff3333"/>
<rect x="1259.14" y="1143.07" width="22.4" height="65.95" fill="none" stroke="#ffd0d0" stroke-width="0.45"/>
<rect x="1282.23" y="1239.26" width="23.78" height="127.73" fill="#fff"/>
<rect x="1284.02" y="1241.05" width="20.2" height="124.15" fill="#4c5674"/>
<rect x="1282.92" y="1239.95" width="22.4" height="126.35" fill="none" stroke="#dfe2ec" stroke-width="0.45"/>
<rect x="1282.23" y="1212.84" width="23.78" height="27.2" fill="#fff"/>
<rect x="1284.02" y="1214.63" width="20.2" height="23.62" fill="#ff3333"/>
<rect x="1282.92" y="1213.53" width="22.4" height="25.82" fill="none" stroke="#ffd0d0" stroke-width="0.45"/>
<rect x="1306.01" y="1212.45" width="23.78" height="154.54" fill="#fff"/>
<rect x="1307.8" y="1214.24" width="20.2" height="150.96" fill="#4c5674"/>
<rect x="1306.7" y="1213.14" width="22.4" height="153.16" fill="none" stroke="#dfe2ec" stroke-width="0.45"/>
<rect x="1306.01" y="1152.16" width="23.78" height="61.07" fill="#fff"/>
<rect x="1307.8" y="1153.95" width="20.2" height="57.49" fill="#ff3333"/>
<rect x="1306.7" y="1152.85" width="22.4" height="59.69" fill="none" stroke="#ffd0d0" stroke-width="0.45"/>
<rect x="1329.79" y="1233.78" width="23.78" height="133.21" fill="#fff"/>
<rect x="1331.58" y="1235.57" width="20.2" height="129.63" fill="#4c5674"/>
<rect x="1330.48" y="1234.47" width="22.4" height="131.83" fill="none" stroke="#dfe2ec" stroke-width="0.45"/>
<rect x="1329.79" y="1195.22" width="23.78" height="39.34" fill="#fff"/>
<rect x="1331.58" y="1197.01" width="20.2" height="35.76" fill="#ff3333"/>
<rect x="1330.48" y="1195.91" width="22.4" height="37.96" fill="none" stroke="#ffd0d0" stroke-width="0.45"/>
<rect x="1353.57" y="1222.63" width="23.78" height="144.36" fill="#fff"/>
<rect x="1355.36" y="1224.42" width="20.2" height="140.78" fill="#4c5674"/>
<rect x="1354.26" y="1223.32" width="22.4" height="142.98" fill="none" stroke="#dfe2ec" stroke-width="0.45"/>
<rect x="1353.57" y="1187" width="23.78" height="36.4" fill="#fff"/>
<rect x="1355.36" y="1188.79" width="20.2" height="32.82" fill="#ff3333"/>
<rect x="1354.26" y="1187.69" width="22.4" height="35.02" fill="none" stroke="#ffd0d0" stroke-width="0.45"/>
<rect x="1377.35" y="1205.99" width="23.78" height="161" fill="#fff"/>
<rect x="1379.14" y="1207.78" width="20.2" height="157.42" fill="#4c5674"/>
<rect x="1378.04" y="1206.68" width="22.4" height="159.62" fill="none" stroke="#dfe2ec" stroke-width="0.45"/>
<rect x="1377.35" y="1168.21" width="23.78" height="38.56" fill="#fff"/>
<rect x="1379.14" y="1170" width="20.2" height="34.98" fill="#ff3333"/>
<rect x="1378.04" y="1168.9" width="22.4" height="37.18" fill="none" stroke="#ffd0d0" stroke-width="0.45"/>
<rect x="1401.13" y="1243.57" width="23.78" height="123.42" fill="#fff"/>
<rect x="1402.92" y="1245.36" width="20.2" height="119.84" fill="#4c5674"/>
<rect x="1401.82" y="1244.26" width="22.4" height="122.04" fill="none" stroke="#dfe2ec" stroke-width="0.45"/>
<rect x="1401.13" y="1186.81" width="23.78" height="57.54" fill="#fff"/>
<rect x="1402.92" y="1188.6" width="20.2" height="53.96" fill="#ff3333"/>
<rect x="1401.82" y="1187.5" width="22.4" height="56.16" fill="none" stroke="#ffd0d0" stroke-width="0.45"/>
<rect x="1424.91" y="1231.43" width="23.78" height="135.56" fill="#fff"/>
<rect x="1426.7" y="1233.22" width="20.2" height="131.98" fill="#4c5674"/>
<rect x="1425.6" y="1232.12" width="22.4" height="134.18" fill="none" stroke="#dfe2ec" stroke-width="0.45"/>
<rect x="1424.91" y="1183.09" width="23.78" height="49.13" fill="#fff"/>
<rect x="1426.7" y="1184.88" width="20.2" height="45.55" fill="#ff3333"/>
<rect x="1425.6" y="1183.78" width="22.4" height="47.75" fill="none" stroke="#ffd0d0" stroke-width="0.45"/>
<rect x="1448.69" y="1229.87" width="23.78" height="137.12" fill="#fff"/>
<rect x="1450.48" y="1231.66" width="20.2" height="133.54" fill="#4c5674"/>
<rect x="1449.38" y="1230.56" width="22.4" height="135.74" fill="none" stroke="#dfe2ec" stroke-width="0.45"/>
<rect x="1448.69" y="1194.24" width="23.78" height="36.4" fill="#fff"/>
<rect x="1450.48" y="1196.03" width="20.2" height="32.82" fill="#ff3333"/>
<rect x="1449.38" y="1194.93" width="22.4" height="35.02" fill="none" stroke="#ffd0d0" stroke-width="0.45"/>
<rect x="1472.47" y="1205.99" width="23.78" height="161" fill="#fff"/>
<rect x="1474.26" y="1207.78" width="20.2" height="157.42" fill="#4c5674"/>
<rect x="1473.16" y="1206.68" width="22.4" height="159.62" fill="none" stroke="#dfe2ec" stroke-width="0.45"/>
<rect x="1472.47" y="1138.46" width="23.78" height="68.31" fill="#fff"/>
<rect x="1474.26" y="1140.25" width="20.2" height="64.73" fill="#ff3333"/>
<rect x="1473.16" y="1139.15" width="22.4" height="66.93" fill="none" stroke="#ffd0d0" stroke-width="0.45"/>
<rect x="1496.25" y="1247.09" width="23.78" height="119.9" fill="#fff"/>
<rect x="1498.04" y="1248.88" width="20.2" height="116.32" fill="#4c5674"/>
<rect x="1496.94" y="1247.78" width="22.4" height="118.52" fill="none" stroke="#dfe2ec" stroke-width="0.45"/>
<rect x="1496.25" y="1203.05" width="23.78" height="44.82" fill="#fff"/>
<rect x="1498.04" y="1204.84" width="20.2" height="41.24" fill="#ff3333"/>
<rect x="1496.94" y="1203.74" width="22.4" height="43.44" fill="none" stroke="#ffd0d0" stroke-width="0.45"/>
<rect x="1520.03" y="1244.16" width="23.78" height="122.83" fill="#fff"/>
<rect x="1521.82" y="1245.95" width="20.2" height="119.25" fill="#4c5674"/>
<rect x="1520.72" y="1244.85" width="22.4" height="121.45" fill="none" stroke="#dfe2ec" stroke-width="0.45"/>
<rect x="1520.03" y="1198.16" width="23.78" height="46.78" fill="#fff"/>
<rect x="1521.82" y="1199.95" width="20.2" height="43.2" fill="#ff3333"/>
<rect x="1520.72" y="1198.85" width="22.4" height="45.4" fill="none" stroke="#ffd0d0" stroke-width="0.45"/>
<rect x="1543.81" y="1211.86" width="23.78" height="155.13" fill="#fff"/>
<rect x="1545.6" y="1213.65" width="20.2" height="151.55" fill="#4c5674"/>
<rect x="1544.5" y="1212.55" width="22.4" height="153.75" fill="none" stroke="#dfe2ec" stroke-width="0.45"/>
<rect x="1543.81" y="1159.01" width="23.78" height="53.63" fill="#fff"/>
<rect x="1545.6" y="1160.8" width="20.2" height="50.05" fill="#ff3333"/>
<rect x="1544.5" y="1159.7" width="22.4" height="52.25" fill="none" stroke="#ffd0d0" stroke-width="0.45"/>
<rect x="1567.59" y="1248.46" width="23.78" height="118.53" fill="#fff"/>
<rect x="1569.38" y="1250.25" width="20.2" height="114.95" fill="#4c5674"/>
<rect x="1568.28" y="1249.15" width="22.4" height="117.15" fill="none" stroke="#dfe2ec" stroke-width="0.45"/>
<rect x="1567.59" y="1224.97" width="23.78" height="24.27" fill="#fff"/>
<rect x="1569.38" y="1226.76" width="20.2" height="20.69" fill="#ff3333"/>
<rect x="1568.28" y="1225.66" width="22.4" height="22.89" fill="none" stroke="#ffd0d0" stroke-width="0.45"/>
<rect x="1591.37" y="1267.25" width="23.78" height="99.74" fill="#fff"/>
<rect x="1593.16" y="1269.04" width="20.2" height="96.16" fill="#4c5674"/>
<rect x="1592.06" y="1267.94" width="22.4" height="98.36" fill="none" stroke="#dfe2ec" stroke-width="0.45"/>
<rect x="1591.37" y="1168.21" width="23.78" height="99.82" fill="#fff"/>
<rect x="1593.16" y="1170" width="20.2" height="96.24" fill="#ff3333"/>
<rect x="1592.06" y="1168.9" width="22.4" height="98.44" fill="none" stroke="#ffd0d0" stroke-width="0.45"/>
<rect x="1615.15" y="1267.64" width="23.78" height="99.35" fill="#fff"/>
<rect x="1616.94" y="1269.43" width="20.2" height="95.77" fill="#4c5674"/>
<rect x="1615.84" y="1268.33" width="22.4" height="97.97" fill="none" stroke="#dfe2ec" stroke-width="0.45"/>
<rect x="1615.15" y="1235.35" width="23.78" height="33.08" fill="#fff"/>
<rect x="1616.94" y="1237.14" width="20.2" height="29.5" fill="#ff3333"/>
<rect x="1615.84" y="1236.04" width="22.4" height="31.7" fill="none" stroke="#ffd0d0" stroke-width="0.45"/>
<rect x="1638.93" y="1229.48" width="23.78" height="137.51" fill="#fff"/>
<rect x="1640.72" y="1231.27" width="20.2" height="133.93" fill="#4c5674"/>
<rect x="1639.62" y="1230.17" width="22.4" height="136.13" fill="none" stroke="#dfe2ec" stroke-width="0.45"/>
<rect x="1638.93" y="1204.03" width="23.78" height="26.23" fill="#fff"/>
<rect x="1640.72" y="1205.82" width="20.2" height="22.65" fill="#ff3333"/>
<rect x="1639.62" y="1204.72" width="22.4" height="24.85" fill="none" stroke="#ffd0d0" stroke-width="0.45"/>
<rect x="1662.71" y="1244.74" width="23.78" height="122.25" fill="#fff"/>
<rect x="1664.5" y="1246.53" width="20.2" height="118.67" fill="#4c5674"/>
<rect x="1663.4" y="1245.43" width="22.4" height="120.87" fill="none" stroke="#dfe2ec" stroke-width="0.45"/>
<rect x="1662.71" y="1208.92" width="23.78" height="36.6" fill="#fff"/>
<rect x="1664.5" y="1210.71" width="20.2" height="33.02" fill="#ff3333"/>
<rect x="1663.4" y="1209.61" width="22.4" height="35.22" fill="none" stroke="#ffd0d0" stroke-width="0.45"/>
<polygon points="961.2,1172.55 984.98,1175.09 1008.76,1106.98 1032.54,1189.18 1056.32,1165.7 1080.1,1220.5 1103.88,1192.71 1127.66,1155.91 1151.44,1140.64 1175.22,1173.53 1199,1157.28 1222.78,1143.19 1246.56,1135.75 1270.34,1126.16 1294.12,1199.95 1317.9,1131.83 1341.68,1183.7 1365.46,1172.55 1389.24,1151.99 1413.02,1160.8 1436.8,1157.48 1460.58,1181.35 1484.36,1123.22 1508.14,1186.83 1531.92,1188.21 1555.7,1143.19 1579.48,1210.71 1603.26,1108.93 1627.04,1225.39 1650.82,1193.1 1674.6,1193.49 1674.6,1224.42 1650.82,1215.61 1627.04,1243.99 1603.26,1228.33 1579.48,1238.12 1555.7,1177.44 1531.92,1207.78 1508.14,1219.52 1484.36,1155.91 1460.58,1206.8 1436.8,1209.74 1413.02,1213.06 1389.24,1184.88 1365.46,1203.86 1341.68,1206.41 1317.9,1173.53 1294.12,1225.39 1270.34,1159.82 1246.56,1167.46 1222.78,1174.5 1199,1187.62 1175.22,1195.06 1151.44,1188.21 1127.66,1183.7 1103.88,1209.15 1080.1,1245.95 1056.32,1186.25 1032.54,1214.63 1008.76,1144.17 984.98,1208.76 961.2,1196.62" fill="rgba(34,139,34,0.2)"/>
<polygon points="961.2,1172.55 984.98,1175.09 1008.76,1106.98 1032.54,1189.18 1056.32,1165.7 1080.1,1220.5 1103.88,1192.71 1127.66,1155.91 1151.44,1140.64 1175.22,1173.53 1199,1157.28 1222.78,1143.19 1246.56,1135.75 1270.34,1126.16 1294.12,1199.95 1317.9,1131.83 1341.68,1183.7 1365.46,1172.55 1389.24,1151.99 1413.02,1160.8 1436.8,1157.48 1460.58,1181.35 1484.36,1123.22 1508.14,1186.83 1531.92,1188.21 1555.7,1143.19 1579.48,1210.71 1603.26,1108.93 1627.04,1225.39 1650.82,1193.1 1674.6,1193.49 1674.6,1224.42 1650.82,1215.61 1627.04,1243.99 1603.26,1228.33 1579.48,1238.12 1555.7,1177.44 1531.92,1207.78 1508.14,1219.52 1484.36,1155.91 1460.58,1206.8 1436.8,1209.74 1413.02,1213.06 1389.24,1184.88 1365.46,1203.86 1341.68,1206.41 1317.9,1173.53 1294.12,1225.39 1270.34,1159.82 1246.56,1167.46 1222.78,1174.5 1199,1187.62 1175.22,1195.06 1151.44,1188.21 1127.66,1183.7 1103.88,1209.15 1080.1,1245.95 1056.32,1186.25 1032.54,1214.63 1008.76,1144.17 984.98,1208.76 961.2,1196.62" fill="none" stroke="#eef3f3" stroke-width="2.3" stroke-linejoin="round"/>
<polyline points="961.2,1196.62 961.2,1172.55 984.98,1175.09 1008.76,1106.98 1032.54,1189.18 1056.32,1165.7 1080.1,1220.5 1103.88,1192.71 1127.66,1155.91 1151.44,1140.64 1175.22,1173.53 1199,1157.28 1222.78,1143.19 1246.56,1135.75 1270.34,1126.16 1294.12,1199.95 1317.9,1131.83 1341.68,1183.7 1365.46,1172.55 1389.24,1151.99 1413.02,1160.8 1436.8,1157.48 1460.58,1181.35 1484.36,1123.22 1508.14,1186.83 1531.92,1188.21 1555.7,1143.19 1579.48,1210.71 1603.26,1108.93 1627.04,1225.39 1650.82,1193.1 1674.6,1193.49 1674.6,1224.42" fill="none" stroke="#800080" stroke-width="1.55" stroke-dasharray="13.5 6.5" stroke-linejoin="miter"/>
<polyline points="961.2,1196.62 984.98,1208.76 1008.76,1144.17 1032.54,1214.63 1056.32,1186.25 1080.1,1245.95 1103.88,1209.15 1127.66,1183.7 1151.44,1188.21 1175.22,1195.06 1199,1187.62 1222.78,1174.5 1246.56,1167.46 1270.34,1159.82 1294.12,1225.39 1317.9,1173.53 1341.68,1206.41 1365.46,1203.86 1389.24,1184.88 1413.02,1213.06 1436.8,1209.74 1460.58,1206.8 1484.36,1155.91 1508.14,1219.52 1531.92,1207.78 1555.7,1177.44 1579.48,1238.12 1603.26,1228.33 1627.04,1243.99 1650.82,1215.61 1674.6,1224.42" fill="none" stroke="#800080" stroke-width="1.55" stroke-dasharray="13.5 6.5"/>
<path d="M935.3 954.2V1381.6H1699.7" fill="none" stroke="#000" stroke-width="1.7"/>
<path d="M926 968H935.3M926 1100.9H935.3M926 1233.7H935.3M926 1366.6H935.3M961.2 1381.6V1390.9M984.98 1381.6V1390.9M1008.76 1381.6V1390.9M1032.54 1381.6V1390.9M1056.32 1381.6V1390.9M1080.1 1381.6V1390.9M1103.88 1381.6V1390.9M1127.66 1381.6V1390.9M1151.44 1381.6V1390.9M1175.22 1381.6V1390.9M1199 1381.6V1390.9M1222.78 1381.6V1390.9M1246.56 1381.6V1390.9M1270.34 1381.6V1390.9M1294.12 1381.6V1390.9M1317.9 1381.6V1390.9M1341.68 1381.6V1390.9M1365.46 1381.6V1390.9M1389.24 1381.6V1390.9M1413.02 1381.6V1390.9M1436.8 1381.6V1390.9M1460.58 1381.6V1390.9M1484.36 1381.6V1390.9M1508.14 1381.6V1390.9M1531.92 1381.6V1390.9M1555.7 1381.6V1390.9M1579.48 1381.6V1390.9M1603.26 1381.6V1390.9M1627.04 1381.6V1390.9M1650.82 1381.6V1390.9M1674.6 1381.6V1390.9" stroke="#000" stroke-width="1.7" fill="none"/>
<text transform="translate(918.9 967.8) scale(1 1.046) rotate(-90)" text-anchor="middle" font-size="16" letter-spacing="1.05">.0015</text>
<text transform="translate(918.9 1101.9) scale(1 1.046) rotate(-90)" text-anchor="middle" font-size="16">.001</text>
<text transform="translate(918.9 1234.7) scale(1 1.046) rotate(-90)" text-anchor="middle" font-size="16">.0005</text>
<text transform="translate(918.9 1367.6) scale(1 1.046) rotate(-90)" text-anchor="middle" font-size="16">0</text>
<text transform="translate(898.5 1166.7) scale(1 1.046) rotate(-90)" text-anchor="middle" font-size="17.78">Mortality Ratio</text>
<text transform="translate(963.6 1399.2) scale(1 1.046) rotate(-45)" text-anchor="end" stroke="#000" stroke-width="0.3" font-size="12.9">Anhui</text>
<text transform="translate(987.38 1399.2) scale(1 1.046) rotate(-45)" text-anchor="end" stroke="#000" stroke-width="0.3" font-size="12.9">Beijing</text>
<text transform="translate(1011.16 1399.2) scale(1 1.046) rotate(-45)" text-anchor="end" stroke="#000" stroke-width="0.3" font-size="12.9">Chongqing</text>
<text transform="translate(1034.94 1399.2) scale(1 1.046) rotate(-45)" text-anchor="end" stroke="#000" stroke-width="0.3" font-size="12.9">Fujian</text>
<text transform="translate(1058.72 1399.2) scale(1 1.046) rotate(-45)" text-anchor="end" stroke="#000" stroke-width="0.3" font-size="12.9">Gansu</text>
<text transform="translate(1082.5 1399.2) scale(1 1.046) rotate(-45)" text-anchor="end" stroke="#000" stroke-width="0.3" font-size="12.9">Guangdong</text>
<text transform="translate(1106.28 1399.2) scale(1 1.046) rotate(-45)" text-anchor="end" stroke="#000" stroke-width="0.3" font-size="12.9">Guangxi</text>
<text transform="translate(1130.06 1399.2) scale(1 1.046) rotate(-45)" text-anchor="end" stroke="#000" stroke-width="0.3" font-size="12.9">Guizhou</text>
<text transform="translate(1153.84 1399.2) scale(1 1.046) rotate(-45)" text-anchor="end" stroke="#000" stroke-width="0.3" font-size="12.9">Hainan</text>
<text transform="translate(1177.62 1399.2) scale(1 1.046) rotate(-45)" text-anchor="end" stroke="#000" stroke-width="0.3" font-size="12.9">Hebei</text>
<text transform="translate(1201.4 1399.2) scale(1 1.046) rotate(-45)" text-anchor="end" stroke="#000" stroke-width="0.3" font-size="12.9">Heilongjiang</text>
<text transform="translate(1225.18 1399.2) scale(1 1.046) rotate(-45)" text-anchor="end" stroke="#000" stroke-width="0.3" font-size="12.9">Henan</text>
<text transform="translate(1248.96 1399.2) scale(1 1.046) rotate(-45)" text-anchor="end" stroke="#000" stroke-width="0.3" font-size="12.9">Hubei</text>
<text transform="translate(1272.74 1399.2) scale(1 1.046) rotate(-45)" text-anchor="end" stroke="#000" stroke-width="0.3" font-size="12.9">Hunan</text>
<text transform="translate(1296.52 1399.2) scale(1 1.046) rotate(-45)" text-anchor="end" stroke="#000" stroke-width="0.3" font-size="12.9">Inner Mongolia</text>
<text transform="translate(1320.3 1399.2) scale(1 1.046) rotate(-45)" text-anchor="end" stroke="#000" stroke-width="0.3" font-size="12.9">Jiangsu</text>
<text transform="translate(1344.08 1399.2) scale(1 1.046) rotate(-45)" text-anchor="end" stroke="#000" stroke-width="0.3" font-size="12.9">Jiangxi</text>
<text transform="translate(1367.86 1399.2) scale(1 1.046) rotate(-45)" text-anchor="end" stroke="#000" stroke-width="0.3" font-size="12.9">Jilin</text>
<text transform="translate(1391.64 1399.2) scale(1 1.046) rotate(-45)" text-anchor="end" stroke="#000" stroke-width="0.3" font-size="12.9">Liaoning</text>
<text transform="translate(1415.42 1399.2) scale(1 1.046) rotate(-45)" text-anchor="end" stroke="#000" stroke-width="0.3" font-size="12.9">Ningxia</text>
<text transform="translate(1439.2 1399.2) scale(1 1.046) rotate(-45)" text-anchor="end" stroke="#000" stroke-width="0.3" font-size="12.9">Qinghai</text>
<text transform="translate(1462.98 1399.2) scale(1 1.046) rotate(-45)" text-anchor="end" stroke="#000" stroke-width="0.3" font-size="12.9">Shaanxi</text>
<text transform="translate(1486.76 1399.2) scale(1 1.046) rotate(-45)" text-anchor="end" stroke="#000" stroke-width="0.3" font-size="12.9">Shandong</text>
<text transform="translate(1510.54 1399.2) scale(1 1.046) rotate(-45)" text-anchor="end" stroke="#000" stroke-width="0.3" font-size="12.9">Shanghai</text>
<text transform="translate(1534.32 1399.2) scale(1 1.046) rotate(-45)" text-anchor="end" stroke="#000" stroke-width="0.3" font-size="12.9">Shanxi</text>
<text transform="translate(1558.1 1399.2) scale(1 1.046) rotate(-45)" text-anchor="end" stroke="#000" stroke-width="0.3" font-size="12.9">Sichuan</text>
<text transform="translate(1581.88 1399.2) scale(1 1.046) rotate(-45)" text-anchor="end" stroke="#000" stroke-width="0.3" font-size="12.9">Tianjin</text>
<text transform="translate(1605.66 1399.2) scale(1 1.046) rotate(-45)" text-anchor="end" stroke="#000" stroke-width="0.3" font-size="12.9">Xinjiang</text>
<text transform="translate(1629.44 1399.2) scale(1 1.046) rotate(-45)" text-anchor="end" stroke="#000" stroke-width="0.3" font-size="12.9">Tibet</text>
<text transform="translate(1653.22 1399.2) scale(1 1.046) rotate(-45)" text-anchor="end" stroke="#000" stroke-width="0.3" font-size="12.9">Yunnan</text>
<text transform="translate(1677 1399.2) scale(1 1.046) rotate(-45)" text-anchor="end" stroke="#000" stroke-width="0.3" font-size="12.9">Zhejiang</text>
<rect x="1012.4" y="1482.7" width="610.6" height="73.6" fill="#fff" stroke="#000" stroke-width="1.7"/>
<rect x="1022.6" y="1493.9" width="79" height="20.4" fill="#4c5674"/>
<rect x="1021.4" y="1492.7" width="81.4" height="22.8" fill="none" stroke="#dfe2ec" stroke-width="0.6"/>
<rect x="1343.3" y="1493.9" width="79" height="20.4" fill="#ff3333"/>
<rect x="1342.1" y="1492.7" width="81.4" height="22.8" fill="none" stroke="#ffd0d0" stroke-width="0.6"/>
<rect x="1022.7" y="1525.6" width="78.6" height="20.2" fill="#d5ead6" stroke="#228b22" stroke-width="1.08"/>
<rect x="1021.8" y="1524.7" width="80.4" height="22" fill="none" stroke="#800080" stroke-width="1.63" stroke-dasharray="13.5 6.5"/>
<text transform="translate(1116.4 1511) scale(1 1.046)" font-size="17.4">Normal Mortality Ratio</text>
<text transform="translate(1437.3 1511) scale(1 1.046)" font-size="17.4">Excess Mortality Ratio</text>
<text transform="translate(1116.4 1542.9) scale(1 1.046)" font-size="17.4">95% Confidence Interval</text>
<text x="1331.2" y="1617.3" class="cap" font-size="31.3" text-anchor="middle">C. January 2023</text>
<line x1="505.4" y1="1700" x2="1269.8" y2="1700" stroke="#e8f0f2" stroke-width="2.1"/>
<line x1="505.4" y1="1836.9" x2="1269.8" y2="1836.9" stroke="#e8f0f2" stroke-width="2.1"/>
<line x1="505.4" y1="1973.7" x2="1269.8" y2="1973.7" stroke="#e8f0f2" stroke-width="2.1"/>
<line x1="505.4" y1="2110.6" x2="1269.8" y2="2110.6" stroke="#e8f0f2" stroke-width="2.1"/>
<rect x="519.41" y="1975.27" width="23.78" height="135.72" fill="#fff"/>
<rect x="521.2" y="1977.06" width="20.2" height="132.14" fill="#4c5674"/>
<rect x="520.1" y="1975.96" width="22.4" height="134.34" fill="none" stroke="#dfe2ec" stroke-width="0.45"/>
<rect x="543.19" y="1985.99" width="23.78" height="125" fill="#fff"/>
<rect x="544.98" y="1987.78" width="20.2" height="121.42" fill="#4c5674"/>
<rect x="543.88" y="1986.68" width="22.4" height="123.62" fill="none" stroke="#dfe2ec" stroke-width="0.45"/>
<rect x="543.19" y="1967.26" width="23.78" height="18.59" fill="#fff"/>
<rect x="544.98" y="1968.26" width="20.2" height="16.59" fill="#ff3333"/>
<rect x="543.88" y="1967.16" width="22.4" height="18.79" fill="none" stroke="#ffd0d0" stroke-width="0.45"/>
<rect x="566.97" y="1940.78" width="23.78" height="170.21" fill="#fff"/>
<rect x="568.76" y="1942.57" width="20.2" height="166.63" fill="#4c5674"/>
<rect x="567.66" y="1941.47" width="22.4" height="168.83" fill="none" stroke="#dfe2ec" stroke-width="0.45"/>
<rect x="566.97" y="1923.22" width="23.78" height="17.12" fill="#fff"/>
<rect x="568.76" y="1924.22" width="20.2" height="15.12" fill="#ff3333"/>
<rect x="567.66" y="1923.12" width="22.4" height="17.32" fill="none" stroke="#ffd0d0" stroke-width="0.45"/>
<rect x="590.75" y="1972.04" width="23.78" height="138.95" fill="#fff"/>
<rect x="592.54" y="1973.83" width="20.2" height="135.37" fill="#4c5674"/>
<rect x="591.44" y="1972.73" width="22.4" height="137.57" fill="none" stroke="#dfe2ec" stroke-width="0.45"/>
<rect x="614.53" y="1959.86" width="23.78" height="151.13" fill="#fff"/>
<rect x="616.32" y="1961.65" width="20.2" height="147.55" fill="#4c5674"/>
<rect x="615.22" y="1960.55" width="22.4" height="149.75" fill="none" stroke="#dfe2ec" stroke-width="0.45"/>
<rect x="614.53" y="1955.81" width="23.78" height="3.76" fill="#fff"/>
<rect x="616.32" y="1956.81" width="20.2" height="1.76" fill="#ff3333"/>
<rect x="615.22" y="1955.71" width="22.4" height="3.96" fill="none" stroke="#ffd0d0" stroke-width="0.45"/>
<rect x="638.31" y="2009.04" width="23.78" height="101.95" fill="#fff"/>
<rect x="640.1" y="2010.83" width="20.2" height="98.37" fill="#4c5674"/>
<rect x="639" y="2009.73" width="22.4" height="100.57" fill="none" stroke="#dfe2ec" stroke-width="0.45"/>
<rect x="638.31" y="1995.15" width="23.78" height="13.74" fill="#fff"/>
<rect x="640.1" y="1996.15" width="20.2" height="11.74" fill="#ff3333"/>
<rect x="639" y="1995.05" width="22.4" height="13.94" fill="none" stroke="#ffd0d0" stroke-width="0.45"/>
<rect x="662.09" y="1976.89" width="23.78" height="134.1" fill="#fff"/>
<rect x="663.88" y="1978.68" width="20.2" height="130.52" fill="#4c5674"/>
<rect x="662.78" y="1977.58" width="22.4" height="132.72" fill="none" stroke="#dfe2ec" stroke-width="0.45"/>
<rect x="662.09" y="1975.48" width="23.78" height="2.88" fill="#fff"/>
<rect x="663.88" y="1976.48" width="20.2" height="0.88" fill="#ff3333"/>
<rect x="662.78" y="1975.38" width="22.4" height="3.08" fill="none" stroke="#ffd0d0" stroke-width="0.45"/>
<rect x="685.87" y="1955.31" width="23.78" height="155.68" fill="#fff"/>
<rect x="687.66" y="1957.1" width="20.2" height="152.1" fill="#4c5674"/>
<rect x="686.56" y="1956" width="22.4" height="154.3" fill="none" stroke="#dfe2ec" stroke-width="0.45"/>
<rect x="709.65" y="1979.09" width="23.78" height="131.9" fill="#fff"/>
<rect x="711.44" y="1980.88" width="20.2" height="128.32" fill="#4c5674"/>
<rect x="710.34" y="1979.78" width="22.4" height="130.52" fill="none" stroke="#dfe2ec" stroke-width="0.45"/>
<rect x="709.65" y="1975.48" width="23.78" height="4.64" fill="#fff"/>
<rect x="711.44" y="1976.48" width="20.2" height="2.64" fill="#ff3333"/>
<rect x="710.34" y="1975.38" width="22.4" height="4.84" fill="none" stroke="#ffd0d0" stroke-width="0.45"/>
<rect x="733.43" y="1970.14" width="23.78" height="140.85" fill="#fff"/>
<rect x="735.22" y="1971.93" width="20.2" height="137.27" fill="#4c5674"/>
<rect x="734.12" y="1970.83" width="22.4" height="139.47" fill="none" stroke="#dfe2ec" stroke-width="0.45"/>
<rect x="733.43" y="1966.23" width="23.78" height="3.47" fill="#fff"/>
<rect x="735.22" y="1967.23" width="20.2" height="1.47" fill="#ff3333"/>
<rect x="734.12" y="1966.13" width="22.4" height="3.67" fill="none" stroke="#ffd0d0" stroke-width="0.45"/>
<rect x="757.21" y="1978.21" width="23.78" height="132.78" fill="#fff"/>
<rect x="759" y="1980" width="20.2" height="129.2" fill="#4c5674"/>
<rect x="757.9" y="1978.9" width="22.4" height="131.4" fill="none" stroke="#dfe2ec" stroke-width="0.45"/>
<rect x="757.21" y="1960.65" width="23.78" height="17.85" fill="#fff"/>
<rect x="759" y="1961.65" width="20.2" height="15.85" fill="#ff3333"/>
<rect x="757.9" y="1960.55" width="22.4" height="18.05" fill="none" stroke="#ffd0d0" stroke-width="0.45"/>
<rect x="780.99" y="1957.22" width="23.78" height="153.77" fill="#fff"/>
<rect x="782.78" y="1959.01" width="20.2" height="150.19" fill="#4c5674"/>
<rect x="781.68" y="1957.91" width="22.4" height="152.39" fill="none" stroke="#dfe2ec" stroke-width="0.45"/>
<rect x="780.99" y="1941.28" width="23.78" height="15.5" fill="#fff"/>
<rect x="782.78" y="1942.28" width="20.2" height="13.5" fill="#ff3333"/>
<rect x="781.68" y="1941.18" width="22.4" height="15.7" fill="none" stroke="#ffd0d0" stroke-width="0.45"/>
<rect x="804.77" y="1952.23" width="23.78" height="158.76" fill="#fff"/>
<rect x="806.56" y="1954.02" width="20.2" height="155.18" fill="#4c5674"/>
<rect x="805.46" y="1952.92" width="22.4" height="157.38" fill="none" stroke="#dfe2ec" stroke-width="0.45"/>
<rect x="804.77" y="1939.81" width="23.78" height="11.83" fill="#fff"/>
<rect x="806.56" y="1940.81" width="20.2" height="9.83" fill="#ff3333"/>
<rect x="805.46" y="1939.71" width="22.4" height="12.03" fill="none" stroke="#ffd0d0" stroke-width="0.45"/>
<rect x="828.55" y="1948.85" width="23.78" height="162.14" fill="#fff"/>
<rect x="830.34" y="1950.64" width="20.2" height="158.56" fill="#4c5674"/>
<rect x="829.24" y="1949.54" width="22.4" height="160.76" fill="none" stroke="#dfe2ec" stroke-width="0.45"/>
<rect x="852.33" y="1985.99" width="23.78" height="125" fill="#fff"/>
<rect x="854.12" y="1987.78" width="20.2" height="121.42" fill="#4c5674"/>
<rect x="853.02" y="1986.68" width="22.4" height="123.62" fill="none" stroke="#dfe2ec" stroke-width="0.45"/>
<rect x="852.33" y="1981.2" width="23.78" height="4.94" fill="#fff"/>
<rect x="854.12" y="1982.2" width="20.2" height="2.94" fill="#ff3333"/>
<rect x="853.02" y="1981.1" width="22.4" height="5.14" fill="none" stroke="#ffd0d0" stroke-width="0.45"/>
<rect x="876.11" y="1952.23" width="23.78" height="158.76" fill="#fff"/>
<rect x="877.9" y="1954.02" width="20.2" height="155.18" fill="#4c5674"/>
<rect x="876.8" y="1952.92" width="22.4" height="157.38" fill="none" stroke="#dfe2ec" stroke-width="0.45"/>
<rect x="876.11" y="1948.17" width="23.78" height="4.2" fill="#fff"/>
<rect x="877.9" y="1949.17" width="20.2" height="2.2" fill="#ff3333"/>
<rect x="876.8" y="1948.07" width="22.4" height="4.4" fill="none" stroke="#ffd0d0" stroke-width="0.45"/>
<rect x="899.89" y="1974.25" width="23.78" height="136.74" fill="#fff"/>
<rect x="901.68" y="1976.04" width="20.2" height="133.16" fill="#4c5674"/>
<rect x="900.58" y="1974.94" width="22.4" height="135.36" fill="none" stroke="#dfe2ec" stroke-width="0.45"/>
<rect x="899.89" y="1965.79" width="23.78" height="8.31" fill="#fff"/>
<rect x="901.68" y="1966.79" width="20.2" height="6.31" fill="#ff3333"/>
<rect x="900.58" y="1965.69" width="22.4" height="8.51" fill="none" stroke="#ffd0d0" stroke-width="0.45"/>
<rect x="923.67" y="1967.2" width="23.78" height="143.79" fill="#fff"/>
<rect x="925.46" y="1968.99" width="20.2" height="140.21" fill="#4c5674"/>
<rect x="924.36" y="1967.89" width="22.4" height="142.41" fill="none" stroke="#dfe2ec" stroke-width="0.45"/>
<rect x="923.67" y="1963.29" width="23.78" height="4.5" fill="#fff"/>
<rect x="925.46" y="1964.29" width="20.2" height="2.5" fill="#ff3333"/>
<rect x="924.36" y="1963.19" width="22.4" height="4.7" fill="none" stroke="#ffd0d0" stroke-width="0.45"/>
<rect x="947.45" y="1956.19" width="23.78" height="154.8" fill="#fff"/>
<rect x="949.24" y="1957.98" width="20.2" height="151.22" fill="#4c5674"/>
<rect x="948.14" y="1956.88" width="22.4" height="153.42" fill="none" stroke="#dfe2ec" stroke-width="0.45"/>
<rect x="947.45" y="1947.15" width="23.78" height="8.9" fill="#fff"/>
<rect x="949.24" y="1948.15" width="20.2" height="6.9" fill="#ff3333"/>
<rect x="948.14" y="1947.05" width="22.4" height="9.1" fill="none" stroke="#ffd0d0" stroke-width="0.45"/>
<rect x="971.23" y="1988.93" width="23.78" height="122.06" fill="#fff"/>
<rect x="973.02" y="1990.72" width="20.2" height="118.48" fill="#4c5674"/>
<rect x="971.92" y="1989.62" width="22.4" height="120.68" fill="none" stroke="#dfe2ec" stroke-width="0.45"/>
<rect x="971.23" y="1985.31" width="23.78" height="4.5" fill="#fff"/>
<rect x="973.02" y="1986.31" width="20.2" height="2.5" fill="#ff3333"/>
<rect x="971.92" y="1985.21" width="22.4" height="4.7" fill="none" stroke="#ffd0d0" stroke-width="0.45"/>
<rect x="995.01" y="1972.34" width="23.78" height="138.65" fill="#fff"/>
<rect x="996.8" y="1974.13" width="20.2" height="135.07" fill="#4c5674"/>
<rect x="995.7" y="1973.03" width="22.4" height="137.27" fill="none" stroke="#dfe2ec" stroke-width="0.45"/>
<rect x="995.01" y="1944.21" width="23.78" height="27.25" fill="#fff"/>
<rect x="996.8" y="1945.21" width="20.2" height="25.25" fill="#ff3333"/>
<rect x="995.7" y="1944.11" width="22.4" height="27.45" fill="none" stroke="#ffd0d0" stroke-width="0.45"/>
<rect x="1018.79" y="1970.14" width="23.78" height="140.85" fill="#fff"/>
<rect x="1020.58" y="1971.93" width="20.2" height="137.27" fill="#4c5674"/>
<rect x="1019.48" y="1970.83" width="22.4" height="139.47" fill="none" stroke="#dfe2ec" stroke-width="0.45"/>
<rect x="1042.57" y="1945.18" width="23.78" height="165.81" fill="#fff"/>
<rect x="1044.36" y="1946.97" width="20.2" height="162.23" fill="#4c5674"/>
<rect x="1043.26" y="1945.87" width="22.4" height="164.43" fill="none" stroke="#dfe2ec" stroke-width="0.45"/>
<rect x="1042.57" y="1936.87" width="23.78" height="7.87" fill="#fff"/>
<rect x="1044.36" y="1937.87" width="20.2" height="5.87" fill="#ff3333"/>
<rect x="1043.26" y="1936.77" width="22.4" height="8.07" fill="none" stroke="#ffd0d0" stroke-width="0.45"/>
<rect x="1066.35" y="1988.04" width="23.78" height="122.95" fill="#fff"/>
<rect x="1068.14" y="1989.83" width="20.2" height="119.37" fill="#4c5674"/>
<rect x="1067.04" y="1988.73" width="22.4" height="121.57" fill="none" stroke="#dfe2ec" stroke-width="0.45"/>
<rect x="1066.35" y="1980.03" width="23.78" height="7.58" fill="#fff"/>
<rect x="1068.14" y="1981.03" width="20.2" height="5.58" fill="#ff3333"/>
<rect x="1067.04" y="1979.93" width="22.4" height="7.78" fill="none" stroke="#ffd0d0" stroke-width="0.45"/>
<rect x="1090.13" y="1985.11" width="23.78" height="125.88" fill="#fff"/>
<rect x="1091.92" y="1986.9" width="20.2" height="122.3" fill="#4c5674"/>
<rect x="1090.82" y="1985.8" width="22.4" height="124.5" fill="none" stroke="#dfe2ec" stroke-width="0.45"/>
<rect x="1090.13" y="1970.93" width="23.78" height="13.74" fill="#fff"/>
<rect x="1091.92" y="1971.93" width="20.2" height="11.74" fill="#ff3333"/>
<rect x="1090.82" y="1970.83" width="22.4" height="13.94" fill="none" stroke="#ffd0d0" stroke-width="0.45"/>
<rect x="1113.91" y="1951.79" width="23.78" height="159.2" fill="#fff"/>
<rect x="1115.7" y="1953.58" width="20.2" height="155.62" fill="#4c5674"/>
<rect x="1114.6" y="1952.48" width="22.4" height="157.82" fill="none" stroke="#dfe2ec" stroke-width="0.45"/>
<rect x="1113.91" y="1948.17" width="23.78" height="3.47" fill="#fff"/>
<rect x="1115.7" y="1949.17" width="20.2" height="1.47" fill="#ff3333"/>
<rect x="1114.6" y="1948.07" width="22.4" height="3.67" fill="none" stroke="#ffd0d0" stroke-width="0.45"/>
<rect x="1137.69" y="1989.95" width="23.78" height="121.04" fill="#fff"/>
<rect x="1139.48" y="1991.74" width="20.2" height="117.46" fill="#4c5674"/>
<rect x="1138.38" y="1990.64" width="22.4" height="119.66" fill="none" stroke="#dfe2ec" stroke-width="0.45"/>
<rect x="1161.47" y="2052.34" width="23.78" height="58.65" fill="#fff"/>
<rect x="1163.26" y="2054.13" width="20.2" height="55.07" fill="#4c5674"/>
<rect x="1162.16" y="2053.03" width="22.4" height="57.27" fill="none" stroke="#dfe2ec" stroke-width="0.45"/>
<rect x="1161.47" y="2009.83" width="23.78" height="43.83" fill="#fff"/>
<rect x="1163.26" y="2010.83" width="20.2" height="41.83" fill="#ff3333"/>
<rect x="1162.16" y="2009.73" width="22.4" height="44.03" fill="none" stroke="#ffd0d0" stroke-width="0.45"/>
<rect x="1185.25" y="2009.04" width="23.78" height="101.95" fill="#fff"/>
<rect x="1187.04" y="2010.83" width="20.2" height="98.37" fill="#4c5674"/>
<rect x="1185.94" y="2009.73" width="22.4" height="100.57" fill="none" stroke="#dfe2ec" stroke-width="0.45"/>
<rect x="1185.25" y="2002.49" width="23.78" height="6.4" fill="#fff"/>
<rect x="1187.04" y="2003.49" width="20.2" height="4.4" fill="#ff3333"/>
<rect x="1185.94" y="2002.39" width="22.4" height="6.6" fill="none" stroke="#ffd0d0" stroke-width="0.45"/>
<rect x="1209.03" y="1976.01" width="23.78" height="134.98" fill="#fff"/>
<rect x="1210.82" y="1977.8" width="20.2" height="131.4" fill="#4c5674"/>
<rect x="1209.72" y="1976.7" width="22.4" height="133.6" fill="none" stroke="#dfe2ec" stroke-width="0.45"/>
<rect x="1209.03" y="1970.63" width="23.78" height="6.7" fill="#fff"/>
<rect x="1210.82" y="1971.63" width="20.2" height="4.7" fill="#ff3333"/>
<rect x="1209.72" y="1970.53" width="22.4" height="6.9" fill="none" stroke="#ffd0d0" stroke-width="0.45"/>
<rect x="1232.81" y="1987.75" width="23.78" height="123.24" fill="#fff"/>
<rect x="1234.6" y="1989.54" width="20.2" height="119.66" fill="#4c5674"/>
<rect x="1233.5" y="1988.44" width="22.4" height="121.86" fill="none" stroke="#dfe2ec" stroke-width="0.45"/>
<polygon points="531.3,1968.99 555.08,1960.92 578.86,1911.45 602.64,1966.06 626.42,1949.91 650.2,1991.01 673.98,1967.82 697.76,1944.77 721.54,1962.53 745.32,1961.65 769.1,1970.46 792.88,1934.94 816.66,1933.47 840.44,1938.9 864.22,1981.47 888,1941.83 911.78,1959.45 935.56,1957.98 959.34,1950.94 983.12,1965.32 1006.9,1910.28 1030.68,1966.35 1054.46,1931.56 1078.24,1974.86 1102.02,1966.79 1125.8,1943.01 1149.58,1981.17 1173.36,2026.24 1197.14,1993.5 1220.92,1970.46 1244.7,1984.4 1244.7,1993.94 1220.92,1984.4 1197.14,2009.36 1173.36,2081.28 1149.58,1995.41 1125.8,1954.02 1102.02,1976.04 1078.24,1982.94 1054.46,1942.57 1030.68,1976.62 1006.9,1976.33 983.12,2013.76 959.34,1963.12 935.56,1977.8 911.78,1968.99 888,1954.31 864.22,1992.48 840.44,1954.31 816.66,1944.04 792.88,1945.8 769.1,1987.34 745.32,1968.99 721.54,1998.35 697.76,1960.48 673.98,1987.34 650.2,1996.88 626.42,1959.89 602.64,1977.06 578.86,1934.5 555.08,1971.93 531.3,1980" fill="rgba(34,139,34,0.2)"/>
<polygon points="531.3,1968.99 555.08,1960.92 578.86,1911.45 602.64,1966.06 626.42,1949.91 650.2,1991.01 673.98,1967.82 697.76,1944.77 721.54,1962.53 745.32,1961.65 769.1,1970.46 792.88,1934.94 816.66,1933.47 840.44,1938.9 864.22,1981.47 888,1941.83 911.78,1959.45 935.56,1957.98 959.34,1950.94 983.12,1965.32 1006.9,1910.28 1030.68,1966.35 1054.46,1931.56 1078.24,1974.86 1102.02,1966.79 1125.8,1943.01 1149.58,1981.17 1173.36,2026.24 1197.14,1993.5 1220.92,1970.46 1244.7,1984.4 1244.7,1993.94 1220.92,1984.4 1197.14,2009.36 1173.36,2081.28 1149.58,1995.41 1125.8,1954.02 1102.02,1976.04 1078.24,1982.94 1054.46,1942.57 1030.68,1976.62 1006.9,1976.33 983.12,2013.76 959.34,1963.12 935.56,1977.8 911.78,1968.99 888,1954.31 864.22,1992.48 840.44,1954.31 816.66,1944.04 792.88,1945.8 769.1,1987.34 745.32,1968.99 721.54,1998.35 697.76,1960.48 673.98,1987.34 650.2,1996.88 626.42,1959.89 602.64,1977.06 578.86,1934.5 555.08,1971.93 531.3,1980" fill="none" stroke="#eef3f3" stroke-width="2.3" stroke-linejoin="round"/>
<polyline points="531.3,1980 531.3,1968.99 555.08,1960.92 578.86,1911.45 602.64,1966.06 626.42,1949.91 650.2,1991.01 673.98,1967.82 697.76,1944.77 721.54,1962.53 745.32,1961.65 769.1,1970.46 792.88,1934.94 816.66,1933.47 840.44,1938.9 864.22,1981.47 888,1941.83 911.78,1959.45 935.56,1957.98 959.34,1950.94 983.12,1965.32 1006.9,1910.28 1030.68,1966.35 1054.46,1931.56 1078.24,1974.86 1102.02,1966.79 1125.8,1943.01 1149.58,1981.17 1173.36,2026.24 1197.14,1993.5 1220.92,1970.46 1244.7,1984.4 1244.7,1993.94" fill="none" stroke="#800080" stroke-width="1.55" stroke-dasharray="13.5 6.5" stroke-linejoin="miter"/>
<polyline points="531.3,1980 555.08,1971.93 578.86,1934.5 602.64,1977.06 626.42,1959.89 650.2,1996.88 673.98,1987.34 697.76,1960.48 721.54,1998.35 745.32,1968.99 769.1,1987.34 792.88,1945.8 816.66,1944.04 840.44,1954.31 864.22,1992.48 888,1954.31 911.78,1968.99 935.56,1977.8 959.34,1963.12 983.12,2013.76 1006.9,1976.33 1030.68,1976.62 1054.46,1942.57 1078.24,1982.94 1102.02,1976.04 1125.8,1954.02 1149.58,1995.41 1173.36,2081.28 1197.14,2009.36 1220.92,1984.4 1244.7,1993.94" fill="none" stroke="#800080" stroke-width="1.55" stroke-dasharray="13.5 6.5"/>
<path d="M505.4 1685.9V2125.7H1269.8" fill="none" stroke="#000" stroke-width="1.7"/>
<path d="M496.1 1700H505.4M496.1 1836.9H505.4M496.1 1973.7H505.4M496.1 2110.6H505.4M531.3 2125.7V2135M555.08 2125.7V2135M578.86 2125.7V2135M602.64 2125.7V2135M626.42 2125.7V2135M650.2 2125.7V2135M673.98 2125.7V2135M697.76 2125.7V2135M721.54 2125.7V2135M745.32 2125.7V2135M769.1 2125.7V2135M792.88 2125.7V2135M816.66 2125.7V2135M840.44 2125.7V2135M864.22 2125.7V2135M888 2125.7V2135M911.78 2125.7V2135M935.56 2125.7V2135M959.34 2125.7V2135M983.12 2125.7V2135M1006.9 2125.7V2135M1030.68 2125.7V2135M1054.46 2125.7V2135M1078.24 2125.7V2135M1102.02 2125.7V2135M1125.8 2125.7V2135M1149.58 2125.7V2135M1173.36 2125.7V2135M1197.14 2125.7V2135M1220.92 2125.7V2135M1244.7 2125.7V2135" stroke="#000" stroke-width="1.7" fill="none"/>
<text transform="translate(489 1699.8) scale(1 1.08) rotate(-90)" text-anchor="middle" font-size="16" letter-spacing="1.05">.0015</text>
<text transform="translate(489 1837.9) scale(1 1.08) rotate(-90)" text-anchor="middle" font-size="16">.001</text>
<text transform="translate(489 1974.7) scale(1 1.08) rotate(-90)" text-anchor="middle" font-size="16">.0005</text>
<text transform="translate(489 2111.6) scale(1 1.08) rotate(-90)" text-anchor="middle" font-size="16">0</text>
<text transform="translate(468.6 1904.6) scale(1 1.08) rotate(-90)" text-anchor="middle" font-size="17.22">Mortality Ratio</text>
<text transform="translate(534.3 2144) scale(1 1.08) rotate(-45)" text-anchor="end" stroke="#000" stroke-width="0.3" font-size="12.9">Anhui</text>
<text transform="translate(558.08 2144) scale(1 1.08) rotate(-45)" text-anchor="end" stroke="#000" stroke-width="0.3" font-size="12.9">Beijing</text>
<text transform="translate(581.86 2144) scale(1 1.08) rotate(-45)" text-anchor="end" stroke="#000" stroke-width="0.3" font-size="12.9">Chongqing</text>
<text transform="translate(605.64 2144) scale(1 1.08) rotate(-45)" text-anchor="end" stroke="#000" stroke-width="0.3" font-size="12.9">Fujian</text>
<text transform="translate(629.42 2144) scale(1 1.08) rotate(-45)" text-anchor="end" stroke="#000" stroke-width="0.3" font-size="12.9">Gansu</text>
<text transform="translate(653.2 2144) scale(1 1.08) rotate(-45)" text-anchor="end" stroke="#000" stroke-width="0.3" font-size="12.9">Guangdong</text>
<text transform="translate(676.98 2144) scale(1 1.08) rotate(-45)" text-anchor="end" stroke="#000" stroke-width="0.3" font-size="12.9">Guangxi</text>
<text transform="translate(700.76 2144) scale(1 1.08) rotate(-45)" text-anchor="end" stroke="#000" stroke-width="0.3" font-size="12.9">Guizhou</text>
<text transform="translate(724.54 2144) scale(1 1.08) rotate(-45)" text-anchor="end" stroke="#000" stroke-width="0.3" font-size="12.9">Hainan</text>
<text transform="translate(748.32 2144) scale(1 1.08) rotate(-45)" text-anchor="end" stroke="#000" stroke-width="0.3" font-size="12.9">Hebei</text>
<text transform="translate(772.1 2144) scale(1 1.08) rotate(-45)" text-anchor="end" stroke="#000" stroke-width="0.3" font-size="12.9">Heilongjiang</text>
<text transform="translate(795.88 2144) scale(1 1.08) rotate(-45)" text-anchor="end" stroke="#000" stroke-width="0.3" font-size="12.9">Henan</text>
<text transform="translate(819.66 2144) scale(1 1.08) rotate(-45)" text-anchor="end" stroke="#000" stroke-width="0.3" font-size="12.9">Hubei</text>
<text transform="translate(843.44 2144) scale(1 1.08) rotate(-45)" text-anchor="end" stroke="#000" stroke-width="0.3" font-size="12.9">Hunan</text>
<text transform="translate(867.22 2144) scale(1 1.08) rotate(-45)" text-anchor="end" stroke="#000" stroke-width="0.3" font-size="12.9">Inner Mongolia</text>
<text transform="translate(891 2144) scale(1 1.08) rotate(-45)" text-anchor="end" stroke="#000" stroke-width="0.3" font-size="12.9">Jiangsu</text>
<text transform="translate(914.78 2144) scale(1 1.08) rotate(-45)" text-anchor="end" stroke="#000" stroke-width="0.3" font-size="12.9">Jiangxi</text>
<text transform="translate(938.56 2144) scale(1 1.08) rotate(-45)" text-anchor="end" stroke="#000" stroke-width="0.3" font-size="12.9">Jilin</text>
<text transform="translate(962.34 2144) scale(1 1.08) rotate(-45)" text-anchor="end" stroke="#000" stroke-width="0.3" font-size="12.9">Liaoning</text>
<text transform="translate(986.12 2144) scale(1 1.08) rotate(-45)" text-anchor="end" stroke="#000" stroke-width="0.3" font-size="12.9">Ningxia</text>
<text transform="translate(1009.9 2144) scale(1 1.08) rotate(-45)" text-anchor="end" stroke="#000" stroke-width="0.3" font-size="12.9">Qinghai</text>
<text transform="translate(1033.68 2144) scale(1 1.08) rotate(-45)" text-anchor="end" stroke="#000" stroke-width="0.3" font-size="12.9">Shaanxi</text>
<text transform="translate(1057.46 2144) scale(1 1.08) rotate(-45)" text-anchor="end" stroke="#000" stroke-width="0.3" font-size="12.9">Shandong</text>
<text transform="translate(1081.24 2144) scale(1 1.08) rotate(-45)" text-anchor="end" stroke="#000" stroke-width="0.3" font-size="12.9">Shanghai</text>
<text transform="translate(1105.02 2144) scale(1 1.08) rotate(-45)" text-anchor="end" stroke="#000" stroke-width="0.3" font-size="12.9">Shanxi</text>
<text transform="translate(1128.8 2144) scale(1 1.08) rotate(-45)" text-anchor="end" stroke="#000" stroke-width="0.3" font-size="12.9">Sichuan</text>
<text transform="translate(1152.58 2144) scale(1 1.08) rotate(-45)" text-anchor="end" stroke="#000" stroke-width="0.3" font-size="12.9">Tianjin</text>
<text transform="translate(1176.36 2144) scale(1 1.08) rotate(-45)" text-anchor="end" stroke="#000" stroke-width="0.3" font-size="12.9">Xinjiang</text>
<text transform="translate(1200.14 2144) scale(1 1.08) rotate(-45)" text-anchor="end" stroke="#000" stroke-width="0.3" font-size="12.9">Tibet</text>
<text transform="translate(1223.92 2144) scale(1 1.08) rotate(-45)" text-anchor="end" stroke="#000" stroke-width="0.3" font-size="12.9">Yunnan</text>
<text transform="translate(1247.7 2144) scale(1 1.08) rotate(-45)" text-anchor="end" stroke="#000" stroke-width="0.3" font-size="12.9">Zhejiang</text>
<rect x="582.5" y="2230.6" width="610.6" height="75.22" fill="#fff" stroke="#000" stroke-width="1.7"/>
<rect x="592.7" y="2242.05" width="79" height="20.85" fill="#4c5674"/>
<rect x="591.5" y="2240.85" width="81.4" height="23.25" fill="none" stroke="#dfe2ec" stroke-width="0.6"/>
<rect x="913.4" y="2242.05" width="79" height="20.85" fill="#ff3333"/>
<rect x="912.2" y="2240.85" width="81.4" height="23.25" fill="none" stroke="#ffd0d0" stroke-width="0.6"/>
<rect x="592.8" y="2274.42" width="78.6" height="20.68" fill="#d5ead6" stroke="#228b22" stroke-width="1.08"/>
<rect x="591.9" y="2273.52" width="80.4" height="22.48" fill="none" stroke="#800080" stroke-width="1.63" stroke-dasharray="13.5 6.5"/>
<text transform="translate(686.5 2258.32) scale(1 1.08)" font-size="17.4">Normal Mortality Ratio</text>
<text transform="translate(1007.4 2258.32) scale(1 1.08)" font-size="17.4">Excess Mortality Ratio</text>
<text transform="translate(686.5 2291.42) scale(1 1.08)" font-size="17.4">95% Confidence Interval</text>
<text x="889.4" y="2350.7" class="cap" font-size="31.3" text-anchor="middle">D. February 2023</text>
</svg></body></html>
